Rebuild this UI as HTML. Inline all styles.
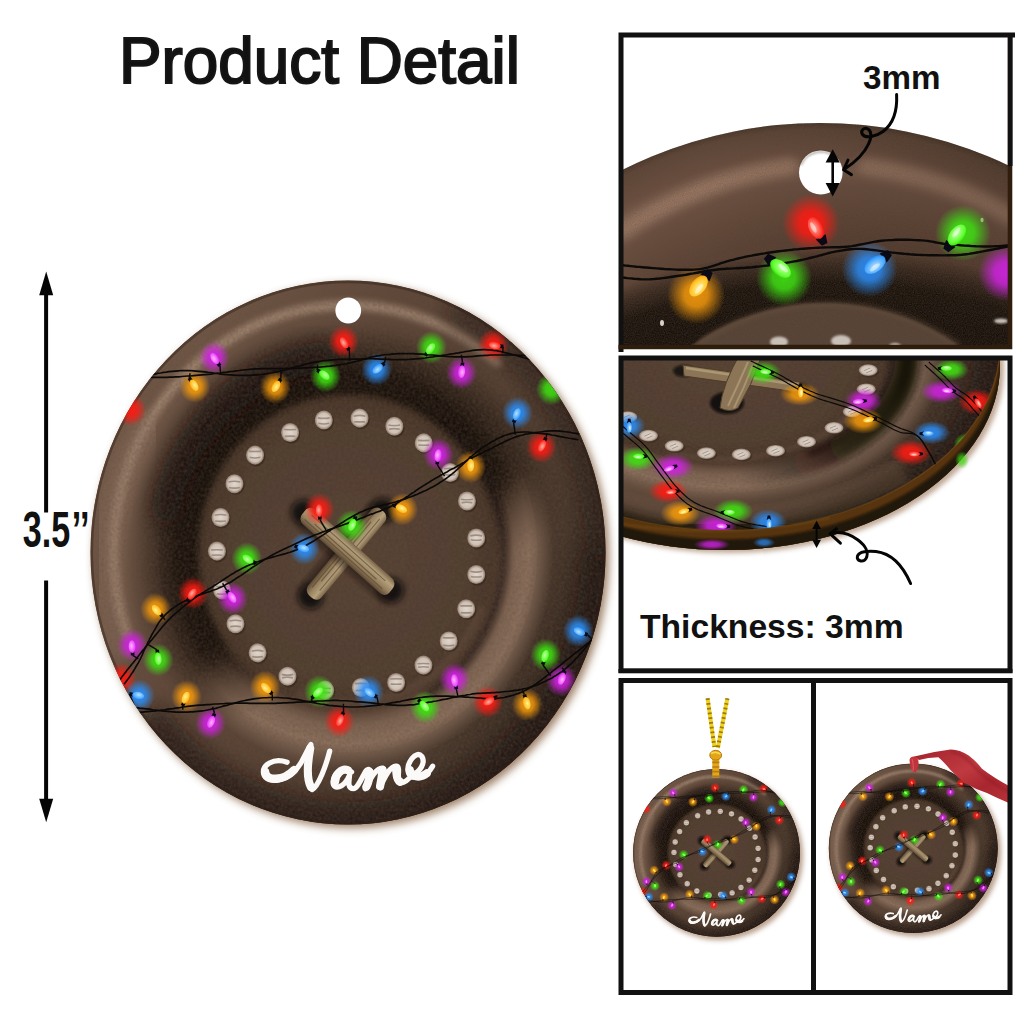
<!DOCTYPE html><html><head><meta charset="utf-8"><title>Product Detail</title><style>html,body{margin:0;padding:0;background:#fff}svg{display:block}text{font-family:"Liberation Sans",sans-serif;font-weight:bold;fill:#111}</style></head><body><svg width="1024" height="1024" viewBox="0 0 1024 1024"><defs><radialGradient id="gl_r"><stop offset="0" stop-color="#ff1a12" stop-opacity="0.92"/><stop offset="0.4" stop-color="#ff1a12" stop-opacity="0.84"/><stop offset="0.7" stop-color="#ff1a12" stop-opacity="0.42"/><stop offset="1" stop-color="#ff1a12" stop-opacity="0"/></radialGradient><radialGradient id="bu_r" cx="0.55" cy="0.4" r="0.6"><stop offset="0" stop-color="#ffb0a0"/><stop offset="0.75" stop-color="#ff3a30"/><stop offset="1" stop-color="#f01810"/></radialGradient><radialGradient id="gl_g"><stop offset="0" stop-color="#3fe012" stop-opacity="0.92"/><stop offset="0.4" stop-color="#3fe012" stop-opacity="0.84"/><stop offset="0.7" stop-color="#3fe012" stop-opacity="0.42"/><stop offset="1" stop-color="#3fe012" stop-opacity="0"/></radialGradient><radialGradient id="bu_g" cx="0.55" cy="0.4" r="0.6"><stop offset="0" stop-color="#c8ffb0"/><stop offset="0.75" stop-color="#5cff2c"/><stop offset="1" stop-color="#3ae010"/></radialGradient><radialGradient id="gl_b"><stop offset="0" stop-color="#2b8cf5" stop-opacity="0.92"/><stop offset="0.4" stop-color="#2b8cf5" stop-opacity="0.84"/><stop offset="0.7" stop-color="#2b8cf5" stop-opacity="0.42"/><stop offset="1" stop-color="#2b8cf5" stop-opacity="0"/></radialGradient><radialGradient id="bu_b" cx="0.55" cy="0.4" r="0.6"><stop offset="0" stop-color="#b8e2ff"/><stop offset="0.75" stop-color="#4aa8ff"/><stop offset="1" stop-color="#2a8cf5"/></radialGradient><radialGradient id="gl_p"><stop offset="0" stop-color="#cf22e0" stop-opacity="0.92"/><stop offset="0.4" stop-color="#cf22e0" stop-opacity="0.84"/><stop offset="0.7" stop-color="#cf22e0" stop-opacity="0.42"/><stop offset="1" stop-color="#cf22e0" stop-opacity="0"/></radialGradient><radialGradient id="bu_p" cx="0.55" cy="0.4" r="0.6"><stop offset="0" stop-color="#ffb8ff"/><stop offset="0.75" stop-color="#ee4cff"/><stop offset="1" stop-color="#d428e6"/></radialGradient><radialGradient id="gl_o"><stop offset="0" stop-color="#f59a0c" stop-opacity="0.92"/><stop offset="0.4" stop-color="#f59a0c" stop-opacity="0.84"/><stop offset="0.7" stop-color="#f59a0c" stop-opacity="0.42"/><stop offset="1" stop-color="#f59a0c" stop-opacity="0"/></radialGradient><radialGradient id="bu_o" cx="0.55" cy="0.4" r="0.6"><stop offset="0" stop-color="#fff29a"/><stop offset="0.75" stop-color="#ffc428"/><stop offset="1" stop-color="#ff9c10"/></radialGradient><radialGradient id="dot"><stop offset="0" stop-color="#e2d6cc"/><stop offset="0.72" stop-color="#cdbfb3"/><stop offset="1" stop-color="#8a7668"/></radialGradient><linearGradient id="gOuter" x1="0.05" y1="0.28" x2="0.95" y2="0.8"><stop offset="0" stop-color="#6f5545"/><stop offset="0.3" stop-color="#5f4739"/><stop offset="0.6" stop-color="#543f32"/><stop offset="0.85" stop-color="#46352a"/><stop offset="1" stop-color="#36281f"/></linearGradient><radialGradient id="gDarkC"><stop offset="0.66" stop-color="#150e09" stop-opacity="1"/><stop offset="0.77" stop-color="#170f0a" stop-opacity="0.96"/><stop offset="0.88" stop-color="#1c130d" stop-opacity="0.5"/><stop offset="0.96" stop-color="#1c130d" stop-opacity="0.12"/><stop offset="1" stop-color="#1c130d" stop-opacity="0"/></radialGradient><radialGradient id="gLightC"><stop offset="0.73" stop-color="#8f7360" stop-opacity="0"/><stop offset="0.80" stop-color="#8f7360" stop-opacity="0.7"/><stop offset="0.88" stop-color="#8f7360" stop-opacity="0.95"/><stop offset="0.95" stop-color="#8f7360" stop-opacity="0.4"/><stop offset="1" stop-color="#8f7360" stop-opacity="0"/></radialGradient><linearGradient id="lgTL" gradientUnits="userSpaceOnUse" x1="-35" y1="-60.6" x2="35" y2="60.6"><stop offset="0" stop-color="#fff"/><stop offset="0.52" stop-color="#fff"/><stop offset="0.72" stop-color="#000"/></linearGradient><linearGradient id="lgBR" gradientUnits="userSpaceOnUse" x1="-35" y1="-60.6" x2="35" y2="60.6"><stop offset="0.56" stop-color="#000"/><stop offset="0.74" stop-color="#fff"/><stop offset="1" stop-color="#fff"/></linearGradient><mask id="mTL" maskUnits="userSpaceOnUse" x="-100" y="-100" width="200" height="200"><rect x="-100" y="-100" width="200" height="200" fill="url(#lgTL)"/></mask><mask id="mBR" maskUnits="userSpaceOnUse" x="-100" y="-100" width="200" height="200"><rect x="-100" y="-100" width="200" height="200" fill="url(#lgBR)"/></mask><radialGradient id="gDisc"><stop offset="0" stop-color="#554133"/><stop offset="0.8" stop-color="#503c2f"/><stop offset="1" stop-color="#443226"/></radialGradient><linearGradient id="gThread" x1="0" y1="0" x2="0" y2="1"><stop offset="0" stop-color="#7a654a"/><stop offset="0.3" stop-color="#b5a17c"/><stop offset="0.65" stop-color="#97815f"/><stop offset="1" stop-color="#5d4a33"/></linearGradient><filter id="b1" x="-20%" y="-20%" width="140%" height="140%"><feGaussianBlur stdDeviation="1.2"/></filter><filter id="b2" x="-20%" y="-20%" width="140%" height="140%"><feGaussianBlur stdDeviation="2.4"/></filter><filter id="b3" x="-20%" y="-20%" width="140%" height="140%"><feGaussianBlur stdDeviation="4"/></filter><filter id="b3w" x="-60%" y="-60%" width="220%" height="220%"><feGaussianBlur stdDeviation="5"/></filter><filter id="sh" x="-20%" y="-20%" width="140%" height="140%"><feGaussianBlur stdDeviation="1.3"/></filter><filter id="grain" x="0" y="0" width="100%" height="100%"><feTurbulence type="fractalNoise" baseFrequency="0.9" numOctaves="2" seed="3" result="n"/><feColorMatrix type="matrix" values="0 0 0 0 0.12  0 0 0 0 0.08  0 0 0 0 0.05  1.1 0 0 -0.42 0"/><feComposite in2="SourceGraphic" operator="in"/></filter><filter id="mottle" x="0" y="0" width="100%" height="100%"><feTurbulence type="fractalNoise" baseFrequency="0.1 0.16" numOctaves="3" seed="11"/><feColorMatrix type="matrix" values="0 0 0 0 0.72  0 0 0 0 0.58  0 0 0 0 0.48  1.0 0 0 -0.46 0"/><feComposite in2="SourceGraphic" operator="in"/></filter><clipPath id="cbtn"><circle r="100"/></clipPath><g id="btnbase"><g clip-path="url(#cbtn)"><circle r="100" fill="#594234"/><circle r="87" fill="none" stroke="url(#gOuter)" stroke-width="27"/><path d="M-86,30 A91,91 0 0 1 58,-70" fill="none" stroke="#b89c86" stroke-width="3.6" opacity="0.7" filter="url(#b1)" stroke-linecap="round"/><path d="M-89,34 A93,93 0 0 1 -78,-46" fill="none" stroke="#947866" stroke-width="13" opacity="0.42" filter="url(#b2)" stroke-linecap="round"/><path d="M-74,64 A97,97 0 0 0 97,4" fill="none" stroke="#120b07" stroke-width="13" opacity="0.72" filter="url(#b3)" stroke-linecap="round"/><path d="M44,-88 A98,98 0 0 1 98,-4" fill="none" stroke="#120b07" stroke-width="11" opacity="0.5" filter="url(#b3)" stroke-linecap="round"/><circle r="86" fill="url(#gDarkC)" mask="url(#mTL)"/><path d="M-71,-16 A73,73 0 0 1 -10,-72" fill="none" stroke="#150e09" stroke-width="11" opacity="0.8" filter="url(#b3)" stroke-linecap="round"/><circle r="80" fill="url(#gLightC)" mask="url(#mBR)"/><path d="M38,-47 A60.5,60.5 0 0 1 30,52.5" fill="none" stroke="#150e09" stroke-width="4" opacity="0.6" filter="url(#b1)"/><circle r="58.2" fill="url(#gDisc)" filter="url(#b1)"/><path d="M52,20 A56,56 0 0 1 -20,52" fill="none" stroke="#7a5f4d" stroke-width="3" opacity="0.35" filter="url(#b1)"/><circle r="100" fill="#fff" filter="url(#grain)" opacity="0.5"/><circle r="99.5" fill="none" stroke="#2a1c13" stroke-width="1" opacity="0.4"/></g></g><g id="btndeco"><circle cx="-9.4" cy="-48.7" r="3.50" fill="#2a1d15" opacity="0.45" transform="translate(0.5 0.6)"/><circle cx="-9.4" cy="-48.7" r="3.50" fill="url(#dot)"/><path d="M-11.7,-49.5 q2.2,0.4 4.6,0 M-11.5,-47.5 q2,0.5 4.2,0" stroke="#8a7a6e" stroke-width="0.6" opacity="0.75" fill="none"/><circle cx="4.5" cy="-49.4" r="3.50" fill="#2a1d15" opacity="0.45" transform="translate(0.5 0.6)"/><circle cx="4.5" cy="-49.4" r="3.50" fill="url(#dot)"/><path d="M2.2,-50.1 q2.2,-0.6 4.6,0 M2.4,-48.0 q2,-0.0 4.2,0" stroke="#8a7a6e" stroke-width="0.6" opacity="0.75" fill="none"/><circle cx="18.0" cy="-46.4" r="3.50" fill="#2a1d15" opacity="0.45" transform="translate(0.5 0.6)"/><circle cx="18.0" cy="-46.4" r="3.50" fill="url(#dot)"/><path d="M15.7,-46.9 q2.2,0.5 4.6,0 M15.9,-45.3 q2,-0.5 4.2,0" stroke="#8a7a6e" stroke-width="0.6" opacity="0.75" fill="none"/><circle cx="29.4" cy="-40.3" r="3.50" fill="#2a1d15" opacity="0.45" transform="translate(0.5 0.6)"/><circle cx="29.4" cy="-40.3" r="3.50" fill="url(#dot)"/><path d="M27.1,-41.2 q2.2,0.1 4.6,0 M27.3,-39.5 q2,0.1 4.2,0" stroke="#8a7a6e" stroke-width="0.6" opacity="0.75" fill="none"/><circle cx="39.6" cy="-29.4" r="3.50" fill="#2a1d15" opacity="0.45" transform="translate(0.5 0.6)"/><circle cx="39.6" cy="-29.4" r="3.50" fill="url(#dot)"/><path d="M37.3,-30.8 q2.2,-0.3 4.6,0 M37.5,-28.7 q2,0.5 4.2,0" stroke="#8a7a6e" stroke-width="0.6" opacity="0.75" fill="none"/><circle cx="46.2" cy="-18.9" r="3.50" fill="#2a1d15" opacity="0.45" transform="translate(0.5 0.6)"/><circle cx="46.2" cy="-18.9" r="3.50" fill="url(#dot)"/><path d="M43.9,-19.6 q2.2,0.4 4.6,0 M44.1,-18.3 q2,-0.4 4.2,0" stroke="#8a7a6e" stroke-width="0.6" opacity="0.75" fill="none"/><circle cx="49.8" cy="-5.3" r="3.50" fill="#2a1d15" opacity="0.45" transform="translate(0.5 0.6)"/><circle cx="49.8" cy="-5.3" r="3.50" fill="url(#dot)"/><path d="M47.5,-6.1 q2.2,-0.6 4.6,0 M47.7,-4.7 q2,0.4 4.2,0" stroke="#8a7a6e" stroke-width="0.6" opacity="0.75" fill="none"/><circle cx="49.8" cy="8.1" r="3.50" fill="#2a1d15" opacity="0.45" transform="translate(0.5 0.6)"/><circle cx="49.8" cy="8.1" r="3.50" fill="url(#dot)"/><path d="M47.5,6.9 q2.2,0.6 4.6,0 M47.7,8.8 q2,0.4 4.2,0" stroke="#8a7a6e" stroke-width="0.6" opacity="0.75" fill="none"/><circle cx="45.9" cy="20.7" r="3.50" fill="#2a1d15" opacity="0.45" transform="translate(0.5 0.6)"/><circle cx="45.9" cy="20.7" r="3.50" fill="url(#dot)"/><path d="M43.6,19.6 q2.2,0.0 4.6,0 M43.8,22.1 q2,0.2 4.2,0" stroke="#8a7a6e" stroke-width="0.6" opacity="0.75" fill="none"/><circle cx="39.1" cy="32.5" r="3.50" fill="#2a1d15" opacity="0.45" transform="translate(0.5 0.6)"/><circle cx="39.1" cy="32.5" r="3.50" fill="url(#dot)"/><path d="M36.8,31.3 q2.2,0.2 4.6,0 M37.0,34.0 q2,0.6 4.2,0" stroke="#8a7a6e" stroke-width="0.6" opacity="0.75" fill="none"/><circle cx="29.3" cy="41.4" r="3.50" fill="#2a1d15" opacity="0.45" transform="translate(0.5 0.6)"/><circle cx="29.3" cy="41.4" r="3.50" fill="url(#dot)"/><path d="M27.0,40.9 q2.2,-0.2 4.6,0 M27.2,42.2 q2,-0.4 4.2,0" stroke="#8a7a6e" stroke-width="0.6" opacity="0.75" fill="none"/><circle cx="18.7" cy="47.8" r="3.50" fill="#2a1d15" opacity="0.45" transform="translate(0.5 0.6)"/><circle cx="18.7" cy="47.8" r="3.50" fill="url(#dot)"/><path d="M16.4,46.5 q2.2,-0.2 4.6,0 M16.6,48.4 q2,0.1 4.2,0" stroke="#8a7a6e" stroke-width="0.6" opacity="0.75" fill="none"/><circle cx="5.0" cy="49.6" r="3.50" fill="#2a1d15" opacity="0.45" transform="translate(0.5 0.6)"/><circle cx="5.0" cy="49.6" r="3.50" fill="url(#dot)"/><path d="M2.7,48.2 q2.2,-0.2 4.6,0 M2.9,50.8 q2,-0.2 4.2,0" stroke="#8a7a6e" stroke-width="0.6" opacity="0.75" fill="none"/><circle cx="-8.9" cy="50.6" r="3.50" fill="#2a1d15" opacity="0.45" transform="translate(0.5 0.6)"/><circle cx="-8.9" cy="50.6" r="3.50" fill="url(#dot)"/><path d="M-11.2,50.0 q2.2,-0.2 4.6,0 M-11.0,51.5 q2,-0.0 4.2,0" stroke="#8a7a6e" stroke-width="0.6" opacity="0.75" fill="none"/><circle cx="-23.5" cy="45.5" r="3.50" fill="#2a1d15" opacity="0.45" transform="translate(0.5 0.6)"/><circle cx="-23.5" cy="45.5" r="3.50" fill="url(#dot)"/><path d="M-25.8,44.8 q2.2,0.6 4.6,0 M-25.6,46.1 q2,-0.6 4.2,0" stroke="#8a7a6e" stroke-width="0.6" opacity="0.75" fill="none"/><circle cx="-35.1" cy="36.9" r="3.50" fill="#2a1d15" opacity="0.45" transform="translate(0.5 0.6)"/><circle cx="-35.1" cy="36.9" r="3.50" fill="url(#dot)"/><path d="M-37.4,36.3 q2.2,-0.6 4.6,0 M-37.2,38.3 q2,0.3 4.2,0" stroke="#8a7a6e" stroke-width="0.6" opacity="0.75" fill="none"/><circle cx="-43.7" cy="26.2" r="3.50" fill="#2a1d15" opacity="0.45" transform="translate(0.5 0.6)"/><circle cx="-43.7" cy="26.2" r="3.50" fill="url(#dot)"/><path d="M-46.0,25.2 q2.2,-0.6 4.6,0 M-45.8,27.3 q2,-0.5 4.2,0" stroke="#8a7a6e" stroke-width="0.6" opacity="0.75" fill="none"/><circle cx="-48.9" cy="13.8" r="3.50" fill="#2a1d15" opacity="0.45" transform="translate(0.5 0.6)"/><circle cx="-48.9" cy="13.8" r="3.50" fill="url(#dot)"/><path d="M-51.2,12.6 q2.2,-0.4 4.6,0 M-51.0,15.2 q2,0.3 4.2,0" stroke="#8a7a6e" stroke-width="0.6" opacity="0.75" fill="none"/><circle cx="-50.9" cy="-0.5" r="3.50" fill="#2a1d15" opacity="0.45" transform="translate(0.5 0.6)"/><circle cx="-50.9" cy="-0.5" r="3.50" fill="url(#dot)"/><path d="M-53.2,-0.9 q2.2,-0.2 4.6,0 M-53.0,1.0 q2,-0.2 4.2,0" stroke="#8a7a6e" stroke-width="0.6" opacity="0.75" fill="none"/><circle cx="-49.5" cy="-12.9" r="3.50" fill="#2a1d15" opacity="0.45" transform="translate(0.5 0.6)"/><circle cx="-49.5" cy="-12.9" r="3.50" fill="url(#dot)"/><path d="M-51.8,-13.7 q2.2,-0.5 4.6,0 M-51.6,-11.6 q2,0.3 4.2,0" stroke="#8a7a6e" stroke-width="0.6" opacity="0.75" fill="none"/><circle cx="-44.1" cy="-25.3" r="3.50" fill="#2a1d15" opacity="0.45" transform="translate(0.5 0.6)"/><circle cx="-44.1" cy="-25.3" r="3.50" fill="url(#dot)"/><path d="M-46.4,-25.9 q2.2,-0.6 4.6,0 M-46.2,-23.9 q2,0.5 4.2,0" stroke="#8a7a6e" stroke-width="0.6" opacity="0.75" fill="none"/><circle cx="-36.1" cy="-35.8" r="3.50" fill="#2a1d15" opacity="0.45" transform="translate(0.5 0.6)"/><circle cx="-36.1" cy="-35.8" r="3.50" fill="url(#dot)"/><path d="M-38.4,-37.2 q2.2,0.1 4.6,0 M-38.2,-35.0 q2,0.5 4.2,0" stroke="#8a7a6e" stroke-width="0.6" opacity="0.75" fill="none"/><circle cx="-22.5" cy="-44.1" r="3.50" fill="#2a1d15" opacity="0.45" transform="translate(0.5 0.6)"/><circle cx="-22.5" cy="-44.1" r="3.50" fill="url(#dot)"/><path d="M-24.8,-45.2 q2.2,0.1 4.6,0 M-24.6,-42.7 q2,-0.2 4.2,0" stroke="#8a7a6e" stroke-width="0.6" opacity="0.75" fill="none"/><ellipse cx="-17.2" cy="-14.8" rx="5" ry="4.6" fill="#0f0a07" opacity="0.85" filter="url(#b1)"/><ellipse cx="16.7" cy="13.9" rx="5" ry="4.6" fill="#0f0a07" opacity="0.85" filter="url(#b1)"/><ellipse cx="13.4" cy="-15.4" rx="5" ry="4.6" fill="#0f0a07" opacity="0.85" filter="url(#b1)"/><ellipse cx="-14.5" cy="16.2" rx="5" ry="4.6" fill="#0f0a07" opacity="0.85" filter="url(#b1)"/><g transform="translate(13.4 -15.4) rotate(131.5)"><rect x="-1" y="-3.4" width="43.2" height="6.8" rx="2.6" fill="#120c08" opacity="0.55" filter="url(#b1)" transform="translate(1.2 1.8)"/><rect x="0" y="-3.4" width="42.2" height="6.8" rx="2.6" fill="url(#gThread)"/><path d="M3,-1.2 H38.2 M6,0.6 H35.2 M2,1.8 H39.2" stroke="#5f4c35" stroke-width="0.45" opacity="0.7" fill="none"/></g><g transform="translate(-17.2 -14.8) rotate(40.2)"><rect x="-1" y="-3.6" width="45.5" height="7.2" rx="2.6" fill="#120c08" opacity="0.55" filter="url(#b1)" transform="translate(1.2 1.8)"/><rect x="0" y="-3.6" width="44.5" height="7.2" rx="2.6" fill="url(#gThread)"/><path d="M3,-1.2 H40.5 M6,0.6 H37.5 M2,1.8 H41.5" stroke="#5f4c35" stroke-width="0.45" opacity="0.7" fill="none"/></g><g clip-path="url(#cbtn)"><g><circle cx="-52.0" cy="-71.7" r="6.0" fill="url(#gl_p)"/><circle cx="-59.5" cy="-61.0" r="6.0" fill="url(#gl_o)"/><circle cx="-28.3" cy="-60.7" r="6.0" fill="url(#gl_o)"/><circle cx="-8.7" cy="-64.9" r="6.0" fill="url(#gl_g)"/><circle cx="-1.7" cy="-77.6" r="6.0" fill="url(#gl_r)"/><circle cx="11.1" cy="-67.3" r="6.0" fill="url(#gl_b)"/><circle cx="32.4" cy="-75.4" r="6.0" fill="url(#gl_g)"/><circle cx="44.1" cy="-66.0" r="6.0" fill="url(#gl_p)"/><circle cx="56.4" cy="-76.3" r="6.0" fill="url(#gl_r)"/><circle cx="79.0" cy="-60.1" r="6.0" fill="url(#gl_g)"/><circle cx="-84.3" cy="-52.4" r="6.0" fill="url(#gl_r)"/><circle cx="65.8" cy="-51.3" r="6.0" fill="url(#gl_b)"/><circle cx="75.1" cy="-38.8" r="6.0" fill="url(#gl_r)"/><circle cx="35.1" cy="-36.1" r="6.0" fill="url(#gl_p)"/><circle cx="47.6" cy="-31.5" r="6.0" fill="url(#gl_o)"/><circle cx="21.2" cy="-15.9" r="6.0" fill="url(#gl_o)"/><circle cx="-11.1" cy="-15.9" r="6.0" fill="url(#gl_r)"/><circle cx="1.4" cy="-9.7" r="6.0" fill="url(#gl_g)"/><circle cx="-16.9" cy="-1.4" r="6.0" fill="url(#gl_b)"/><circle cx="-39.3" cy="2.2" r="6.0" fill="url(#gl_g)"/><circle cx="-60.2" cy="14.9" r="6.0" fill="url(#gl_r)"/><circle cx="-44.8" cy="16.9" r="6.0" fill="url(#gl_p)"/><circle cx="-74.7" cy="20.8" r="6.0" fill="url(#gl_o)"/><circle cx="-83.8" cy="34.0" r="6.0" fill="url(#gl_p)"/><circle cx="-73.7" cy="39.5" r="6.0" fill="url(#gl_g)"/><circle cx="-88.1" cy="46.5" r="6.0" fill="url(#gl_r)"/><circle cx="-81.0" cy="52.6" r="6.0" fill="url(#gl_b)"/><circle cx="-62.7" cy="52.9" r="6.0" fill="url(#gl_o)"/><circle cx="-53.4" cy="62.7" r="6.0" fill="url(#gl_p)"/><circle cx="-32.2" cy="49.4" r="6.0" fill="url(#gl_o)"/><circle cx="-11.1" cy="51.1" r="6.0" fill="url(#gl_g)"/><circle cx="-3.4" cy="62.1" r="6.0" fill="url(#gl_r)"/><circle cx="8.0" cy="51.1" r="6.0" fill="url(#gl_b)"/><circle cx="30.0" cy="56.9" r="6.0" fill="url(#gl_g)"/><circle cx="41.4" cy="46.5" r="6.0" fill="url(#gl_p)"/><circle cx="54.2" cy="54.9" r="6.0" fill="url(#gl_r)"/><circle cx="69.6" cy="55.9" r="6.0" fill="url(#gl_o)"/><circle cx="82.8" cy="46.9" r="6.0" fill="url(#gl_p)"/><circle cx="76.8" cy="37.6" r="6.0" fill="url(#gl_g)"/><circle cx="89.4" cy="28.8" r="6.0" fill="url(#gl_b)"/></g><g fill="none" stroke="#0c0a09" stroke-width="0.62" stroke-linecap="round"><path d="M-76.6,-64.5 L-76.0,-64.4 L-75.3,-64.4 L-74.5,-64.4 L-73.6,-64.4 L-72.6,-64.4 L-71.6,-64.4 L-70.5,-64.4 L-69.3,-64.5 L-68.1,-64.5 L-67.0,-64.6 L-65.8,-64.6 L-64.6,-64.7 L-63.4,-64.8 L-62.3,-64.9 L-61.2,-64.9 L-60.1,-65.0 L-59.0,-65.1 L-57.9,-65.2 L-56.7,-65.3 L-55.5,-65.4 L-54.3,-65.5 L-53.1,-65.6 L-51.9,-65.8 L-50.7,-65.9 L-49.5,-66.0 L-48.3,-66.2 L-47.1,-66.3 L-45.9,-66.5 L-44.7,-66.6 L-43.4,-66.8 L-42.2,-66.9 L-40.9,-67.1 L-39.6,-67.2 L-38.4,-67.3 L-37.1,-67.4 L-35.8,-67.5 L-34.5,-67.5 L-33.3,-67.6 L-32.0,-67.6 L-30.8,-67.6 L-29.5,-67.6 L-28.3,-67.6 L-27.2,-67.6 L-26.0,-67.6 L-24.9,-67.6 L-23.7,-67.7 L-22.6,-67.7 L-21.5,-67.7 L-20.4,-67.7 L-19.3,-67.8 L-18.2,-67.8 L-17.1,-67.9 L-16.0,-67.9 L-15.0,-68.0 L-13.9,-68.0 L-12.8,-68.1 L-11.7,-68.1 L-10.5,-68.2 L-9.4,-68.3 L-8.2,-68.4 L-7.0,-68.5 L-5.8,-68.7 L-4.7,-68.8 L-3.5,-69.0 L-2.4,-69.2 L-1.3,-69.3 L-0.3,-69.5 L0.7,-69.7 L1.7,-69.9 L2.5,-70.1 L3.4,-70.3 L4.1,-70.5 L4.7,-70.6 L5.3,-70.8 L5.8,-71.0 L6.3,-71.1 L6.8,-71.2 L7.2,-71.4 L7.8,-71.5 L8.3,-71.7 L8.9,-71.8 L9.6,-72.0 L10.4,-72.1 L11.3,-72.3 L12.3,-72.4 L13.4,-72.6 L14.5,-72.7 L15.8,-72.8 L17.1,-72.9 L18.4,-73.0 L19.8,-73.1 L21.2,-73.1 L22.6,-73.1 L23.9,-73.1 L25.2,-73.1 L26.5,-73.0 L27.7,-72.9 L28.9,-72.9 L30.0,-72.8 L31.0,-72.7 L32.0,-72.6 L33.0,-72.6 L33.9,-72.5 L34.9,-72.4 L35.8,-72.3 L36.7,-72.2 L37.6,-72.2 L38.5,-72.1 L39.4,-72.0 L40.3,-72.0 L41.2,-71.9 L42.1,-71.9 L43.1,-71.9 L44.0,-71.9 L45.0,-71.9 L45.9,-71.9 L46.8,-72.0 L47.8,-72.0 L48.7,-72.1 L49.6,-72.2 L50.5,-72.3 L51.5,-72.4 L52.4,-72.4 L53.3,-72.5 L54.3,-72.5 L55.3,-72.6 L56.3,-72.6 L57.4,-72.6 L58.7,-72.6 L59.9,-72.6 L61.2,-72.6 L62.5,-72.6 L63.8,-72.6 L65.1,-72.6 L66.3,-72.5 L67.4,-72.5 L68.4,-72.5 L69.4,-72.4 L70.1,-72.4 L70.8,-72.4"/><path d="M-76.7,-65.3 L-76.1,-65.4 L-75.4,-65.6 L-74.6,-65.7 L-73.8,-65.9 L-72.8,-66.0 L-71.7,-66.2 L-70.6,-66.3 L-69.5,-66.5 L-68.3,-66.6 L-67.1,-66.7 L-65.9,-66.8 L-64.7,-66.9 L-63.5,-66.9 L-62.4,-66.9 L-61.3,-66.9 L-60.1,-66.8 L-59.0,-66.7 L-57.8,-66.6 L-56.7,-66.5 L-55.5,-66.4 L-54.3,-66.2 L-53.1,-66.1 L-51.9,-65.9 L-50.7,-65.8 L-49.5,-65.6 L-48.3,-65.5 L-47.1,-65.4 L-45.8,-65.3 L-44.6,-65.2 L-43.4,-65.1 L-42.1,-65.1 L-40.8,-65.1 L-39.5,-65.1 L-38.2,-65.1 L-36.9,-65.2 L-35.6,-65.3 L-34.4,-65.4 L-33.1,-65.5 L-31.8,-65.7 L-30.6,-65.9 L-29.4,-66.1 L-28.2,-66.3 L-27.0,-66.5 L-25.9,-66.8 L-24.8,-67.0 L-23.7,-67.3 L-22.6,-67.6 L-21.5,-67.9 L-20.5,-68.2 L-19.4,-68.4 L-18.4,-68.7 L-17.3,-69.0 L-16.3,-69.3 L-15.2,-69.5 L-14.1,-69.7 L-13.0,-69.9 L-11.9,-70.1 L-10.8,-70.3 L-9.6,-70.5 L-8.4,-70.6 L-7.3,-70.7 L-6.1,-70.8 L-4.9,-70.9 L-3.8,-71.0 L-2.6,-71.0 L-1.5,-71.0 L-0.5,-71.0 L0.6,-71.1 L1.5,-71.1 L2.4,-71.1 L3.2,-71.1 L4.0,-71.1 L4.6,-71.1 L5.2,-71.1 L5.7,-71.2 L6.3,-71.2 L6.8,-71.2 L7.3,-71.2 L7.8,-71.3 L8.4,-71.3 L9.0,-71.3 L9.7,-71.3 L10.5,-71.2 L11.3,-71.2 L12.3,-71.1 L13.4,-71.1 L14.6,-71.0 L15.8,-71.0 L17.1,-70.9 L18.5,-70.9 L19.8,-70.9 L21.2,-70.9 L22.6,-70.9 L23.9,-71.0 L25.3,-71.1 L26.6,-71.2 L27.8,-71.3 L28.9,-71.4 L30.0,-71.5 L31.0,-71.7 L32.0,-71.8 L33.0,-71.9 L33.9,-72.1 L34.9,-72.2 L35.8,-72.3 L36.7,-72.5 L37.6,-72.6 L38.4,-72.7 L39.3,-72.9 L40.2,-73.0 L41.1,-73.1 L42.1,-73.3 L43.0,-73.4 L43.9,-73.6 L44.8,-73.7 L45.7,-73.9 L46.6,-74.0 L47.5,-74.1 L48.4,-74.3 L49.4,-74.4 L50.3,-74.5 L51.3,-74.5 L52.3,-74.6 L53.3,-74.6 L54.3,-74.5 L55.3,-74.5 L56.4,-74.3 L57.6,-74.2 L58.8,-74.0 L60.1,-73.7 L61.3,-73.4 L62.6,-73.1 L63.8,-72.8 L65.0,-72.5 L66.2,-72.2 L67.3,-71.9 L68.3,-71.6 L69.2,-71.4 L70.0,-71.2 L70.6,-71.1"/><path d="M89.5,-43.6 L89.0,-43.7 L88.5,-43.8 L87.8,-43.9 L87.0,-44.0 L86.2,-44.2 L85.3,-44.3 L84.3,-44.4 L83.3,-44.5 L82.3,-44.6 L81.3,-44.7 L80.2,-44.7 L79.2,-44.7 L78.2,-44.7 L77.3,-44.6 L76.4,-44.5 L75.5,-44.4 L74.5,-44.3 L73.6,-44.2 L72.6,-44.1 L71.7,-44.0 L70.8,-43.8 L69.8,-43.6 L68.9,-43.5 L68.0,-43.2 L67.0,-43.0 L66.1,-42.8 L65.2,-42.5 L64.3,-42.2 L63.4,-41.8 L62.5,-41.5 L61.6,-41.1 L60.7,-40.7 L59.8,-40.2 L58.8,-39.8 L57.9,-39.3 L56.9,-38.9 L56.0,-38.4 L55.0,-37.9 L54.0,-37.5 L53.1,-37.0 L52.2,-36.6 L51.2,-36.2 L50.3,-35.8 L49.4,-35.4 L48.6,-35.0 L47.7,-34.5 L46.9,-34.1 L46.0,-33.7 L45.2,-33.2 L44.3,-32.8 L43.5,-32.3 L42.7,-31.9 L41.9,-31.4 L41.1,-31.0 L40.2,-30.6 L39.4,-30.2 L38.6,-29.7 L37.8,-29.3 L37.0,-28.9 L36.2,-28.5 L35.4,-28.0 L34.6,-27.6 L33.8,-27.2 L33.0,-26.7 L32.2,-26.3 L31.5,-25.8 L30.7,-25.4 L29.9,-24.9 L29.2,-24.5 L28.4,-24.0 L27.7,-23.6 L26.9,-23.1 L26.2,-22.6 L25.5,-22.1 L24.7,-21.7 L24.0,-21.2 L23.3,-20.7 L22.5,-20.3 L21.8,-19.8 L21.0,-19.3 L20.3,-18.9 L19.6,-18.5 L18.8,-18.0 L18.1,-17.6 L17.3,-17.3 L16.6,-16.9 L15.8,-16.6 L15.1,-16.2 L14.3,-16.0 L13.6,-15.7 L12.8,-15.4 L12.1,-15.1 L11.3,-14.9 L10.6,-14.6 L9.8,-14.3 L9.0,-14.1 L8.2,-13.8 L7.4,-13.5 L6.5,-13.1 L5.6,-12.8 L4.7,-12.5 L3.7,-12.1 L2.8,-11.8 L1.8,-11.4 L0.8,-11.1 L-0.2,-10.7 L-1.2,-10.4 L-2.3,-10.0 L-3.3,-9.7 L-4.3,-9.4 L-5.3,-9.0 L-6.3,-8.7 L-7.3,-8.4 L-8.3,-8.0 L-9.4,-7.7 L-10.4,-7.3 L-11.4,-6.9 L-12.4,-6.6 L-13.4,-6.2 L-14.4,-5.8 L-15.4,-5.4 L-16.4,-5.0 L-17.3,-4.6 L-18.2,-4.2 L-19.1,-3.8 L-20.0,-3.4 L-20.8,-3.0 L-21.6,-2.7 L-22.4,-2.3 L-23.2,-2.0 L-24.0,-1.6 L-24.8,-1.3 L-25.6,-0.9 L-26.3,-0.6 L-27.1,-0.2 L-27.8,0.1 L-28.5,0.5 L-29.2,0.8 L-29.9,1.2 L-30.6,1.6 L-31.2,1.9 L-31.9,2.3 L-32.5,2.6 L-33.0,3.0 L-33.6,3.3 L-34.2,3.7 L-34.7,4.0 L-35.3,4.4 L-35.8,4.7 L-36.4,5.1 L-37.0,5.4 L-37.6,5.8 L-38.2,6.2 L-38.8,6.6 L-39.5,7.1 L-40.2,7.5 L-40.9,8.0 L-41.7,8.5 L-42.4,8.9 L-43.2,9.4 L-44.0,9.9 L-44.8,10.4 L-45.6,10.9 L-46.5,11.3 L-47.3,11.7 L-48.1,12.2 L-49.0,12.6 L-49.8,12.9 L-50.7,13.3 L-51.5,13.6 L-52.4,13.9 L-53.2,14.2 L-54.1,14.5 L-54.9,14.7 L-55.8,15.0 L-56.6,15.3 L-57.5,15.5 L-58.3,15.8 L-59.1,16.1 L-60.0,16.4 L-60.8,16.7 L-61.5,17.0 L-62.3,17.3 L-63.0,17.7 L-63.8,18.0 L-64.5,18.4 L-65.2,18.8 L-65.9,19.1 L-66.5,19.5 L-67.2,20.0 L-67.8,20.4 L-68.5,20.8 L-69.1,21.3 L-69.7,21.8 L-70.3,22.3 L-70.9,22.8 L-71.4,23.4 L-72.0,24.0 L-72.5,24.6 L-73.0,25.2 L-73.5,25.8 L-73.9,26.5 L-74.3,27.1 L-74.7,27.8 L-75.1,28.5 L-75.5,29.1 L-75.9,29.8 L-76.3,30.4 L-76.6,31.1 L-77.0,31.7 L-77.3,32.4 L-77.7,33.0 L-78.0,33.7 L-78.3,34.3 L-78.6,35.0 L-79.0,35.6 L-79.3,36.3 L-79.6,36.9 L-79.9,37.6 L-80.2,38.2 L-80.5,38.8 L-80.8,39.5 L-81.2,40.1 L-81.5,40.7 L-81.9,41.3 L-82.3,41.9 L-82.7,42.6 L-83.1,43.2 L-83.5,43.9 L-84.0,44.5 L-84.4,45.1 L-84.8,45.7 L-85.2,46.2 L-85.6,46.7 L-86.0,47.2 L-86.3,47.6 L-86.6,48.0 L-86.8,48.2"/><path d="M89.2,-41.5 L88.7,-41.6 L88.1,-41.7 L87.4,-41.8 L86.6,-41.9 L85.8,-42.0 L84.9,-42.2 L84.0,-42.3 L83.0,-42.5 L82.0,-42.7 L81.1,-42.9 L80.1,-43.1 L79.1,-43.2 L78.2,-43.4 L77.3,-43.5 L76.4,-43.6 L75.4,-43.7 L74.5,-43.8 L73.6,-43.9 L72.6,-44.0 L71.7,-44.1 L70.7,-44.2 L69.8,-44.3 L68.8,-44.3 L67.8,-44.3 L66.8,-44.2 L65.8,-44.2 L64.8,-44.0 L63.8,-43.8 L62.8,-43.6 L61.8,-43.3 L60.8,-43.0 L59.8,-42.6 L58.8,-42.2 L57.8,-41.7 L56.8,-41.2 L55.8,-40.7 L54.9,-40.2 L54.0,-39.6 L53.1,-39.1 L52.2,-38.5 L51.3,-37.9 L50.5,-37.3 L49.7,-36.7 L48.9,-36.1 L48.2,-35.5 L47.4,-34.9 L46.7,-34.3 L46.0,-33.7 L45.3,-33.0 L44.6,-32.4 L43.9,-31.8 L43.2,-31.2 L42.5,-30.6 L41.8,-30.0 L41.1,-29.4 L40.3,-28.8 L39.6,-28.3 L38.8,-27.7 L38.1,-27.2 L37.3,-26.7 L36.5,-26.2 L35.8,-25.8 L35.0,-25.3 L34.2,-24.8 L33.4,-24.4 L32.6,-24.0 L31.8,-23.6 L31.0,-23.2 L30.2,-22.8 L29.4,-22.5 L28.5,-22.1 L27.7,-21.8 L26.9,-21.4 L26.0,-21.1 L25.2,-20.8 L24.4,-20.5 L23.5,-20.2 L22.7,-19.9 L21.9,-19.6 L21.0,-19.4 L20.2,-19.1 L19.4,-18.9 L18.6,-18.6 L17.7,-18.4 L16.9,-18.2 L16.1,-18.0 L15.4,-17.8 L14.6,-17.7 L13.8,-17.5 L13.0,-17.3 L12.3,-17.2 L11.5,-17.0 L10.7,-16.8 L9.9,-16.6 L9.1,-16.4 L8.2,-16.1 L7.3,-15.8 L6.5,-15.5 L5.6,-15.1 L4.7,-14.8 L3.8,-14.3 L2.9,-13.9 L2.0,-13.4 L1.0,-12.9 L0.1,-12.4 L-0.8,-11.9 L-1.7,-11.3 L-2.7,-10.8 L-3.6,-10.2 L-4.5,-9.7 L-5.4,-9.1 L-6.3,-8.6 L-7.1,-8.0 L-8.0,-7.5 L-9.0,-6.9 L-9.9,-6.3 L-10.8,-5.8 L-11.7,-5.2 L-12.6,-4.7 L-13.5,-4.1 L-14.5,-3.6 L-15.4,-3.1 L-16.3,-2.6 L-17.2,-2.2 L-18.1,-1.8 L-19.0,-1.4 L-19.9,-1.0 L-20.8,-0.7 L-21.6,-0.4 L-22.5,-0.1 L-23.3,0.1 L-24.2,0.4 L-25.0,0.6 L-25.8,0.8 L-26.6,1.0 L-27.4,1.2 L-28.1,1.4 L-28.9,1.6 L-29.6,1.8 L-30.4,2.0 L-31.1,2.2 L-31.8,2.4 L-32.5,2.6 L-33.1,2.8 L-33.8,3.0 L-34.4,3.2 L-35.0,3.4 L-35.7,3.6 L-36.3,3.9 L-36.9,4.1 L-37.6,4.3 L-38.3,4.6 L-39.0,4.9 L-39.7,5.2 L-40.4,5.5 L-41.2,5.9 L-42.0,6.3 L-42.8,6.7 L-43.6,7.1 L-44.4,7.6 L-45.2,8.0 L-46.0,8.5 L-46.8,9.0 L-47.6,9.5 L-48.4,10.0 L-49.2,10.5 L-49.9,10.9 L-50.7,11.4 L-51.4,11.9 L-52.2,12.3 L-52.9,12.8 L-53.7,13.2 L-54.5,13.7 L-55.3,14.1 L-56.0,14.6 L-56.8,15.0 L-57.5,15.5 L-58.3,15.9 L-59.0,16.4 L-59.7,16.8 L-60.4,17.3 L-61.0,17.8 L-61.7,18.3 L-62.3,18.7 L-63.0,19.2 L-63.6,19.7 L-64.2,20.1 L-64.8,20.6 L-65.4,21.1 L-65.9,21.5 L-66.5,22.0 L-67.1,22.5 L-67.6,22.9 L-68.2,23.4 L-68.7,23.9 L-69.2,24.4 L-69.8,24.9 L-70.3,25.4 L-70.8,25.9 L-71.3,26.5 L-71.8,27.0 L-72.3,27.6 L-72.8,28.2 L-73.3,28.7 L-73.8,29.3 L-74.3,29.9 L-74.8,30.5 L-75.3,31.0 L-75.8,31.6 L-76.3,32.2 L-76.8,32.7 L-77.3,33.3 L-77.8,33.8 L-78.3,34.4 L-78.8,34.9 L-79.2,35.5 L-79.7,36.0 L-80.2,36.6 L-80.6,37.1 L-81.1,37.7 L-81.5,38.2 L-82.0,38.8 L-82.4,39.3 L-82.8,39.8 L-83.3,40.4 L-83.8,40.9 L-84.3,41.5 L-84.8,42.1 L-85.3,42.7 L-85.8,43.2 L-86.2,43.8 L-86.7,44.4 L-87.1,44.9 L-87.5,45.4 L-87.9,45.9 L-88.2,46.3 L-88.5,46.7 L-88.7,47.0"/><path d="M-82.2,58.9 L-81.6,58.8 L-80.9,58.8 L-80.0,58.7 L-79.1,58.6 L-78.1,58.5 L-77.0,58.4 L-75.8,58.3 L-74.7,58.2 L-73.5,58.1 L-72.3,57.9 L-71.1,57.8 L-70.0,57.6 L-68.9,57.5 L-67.9,57.4 L-66.9,57.2 L-66.0,57.1 L-65.0,57.0 L-64.1,56.8 L-63.2,56.7 L-62.3,56.6 L-61.4,56.5 L-60.5,56.4 L-59.6,56.3 L-58.7,56.2 L-57.8,56.1 L-56.8,56.1 L-55.8,56.0 L-54.8,55.9 L-53.8,55.9 L-52.7,55.8 L-51.6,55.7 L-50.5,55.7 L-49.4,55.6 L-48.3,55.6 L-47.2,55.5 L-46.0,55.5 L-44.9,55.5 L-43.7,55.4 L-42.6,55.4 L-41.4,55.4 L-40.3,55.4 L-39.2,55.4 L-38.1,55.5 L-37.0,55.5 L-35.9,55.5 L-34.8,55.5 L-33.7,55.5 L-32.6,55.5 L-31.5,55.5 L-30.4,55.5 L-29.4,55.5 L-28.3,55.5 L-27.2,55.4 L-26.1,55.4 L-25.0,55.3 L-23.9,55.3 L-22.8,55.2 L-21.7,55.2 L-20.6,55.1 L-19.5,55.0 L-18.4,55.0 L-17.3,54.9 L-16.2,54.9 L-15.1,54.8 L-14.0,54.7 L-12.9,54.7 L-11.8,54.6 L-10.7,54.6 L-9.6,54.6 L-8.5,54.5 L-7.4,54.5 L-6.2,54.4 L-5.1,54.4 L-4.0,54.4 L-2.9,54.5 L-1.7,54.5 L-0.6,54.5 L0.5,54.6 L1.6,54.7 L2.7,54.8 L3.8,54.9 L4.8,54.9 L5.9,55.0 L6.9,55.1 L7.9,55.2 L8.9,55.3 L9.9,55.4 L10.8,55.5 L11.8,55.6 L12.7,55.7 L13.7,55.8 L14.6,55.9 L15.5,56.0 L16.4,56.0 L17.4,56.1 L18.3,56.1 L19.2,56.2 L20.2,56.2 L21.1,56.2 L22.1,56.2 L23.1,56.1 L24.0,56.0 L25.0,56.0 L25.9,55.9 L26.9,55.7 L27.8,55.6 L28.8,55.5 L29.7,55.3 L30.6,55.2 L31.5,55.0 L32.5,54.9 L33.4,54.7 L34.3,54.6 L35.3,54.4 L36.2,54.2 L37.1,54.0 L38.0,53.9 L39.0,53.7 L39.9,53.5 L40.8,53.3 L41.8,53.2 L42.7,53.0 L43.6,52.8 L44.6,52.6 L45.5,52.5 L46.5,52.3 L47.4,52.2 L48.4,52.0 L49.3,51.9 L50.3,51.8 L51.3,51.8 L52.3,51.7 L53.2,51.7 L54.2,51.6 L55.1,51.6 L56.0,51.5 L56.9,51.5 L57.8,51.4 L58.7,51.4 L59.5,51.3 L60.4,51.2 L61.2,51.1 L62.0,51.1 L62.8,51.0 L63.6,50.9 L64.4,50.8 L65.1,50.7 L65.9,50.6 L66.7,50.4 L67.5,50.3 L68.2,50.1 L69.0,50.0 L69.8,49.8 L70.6,49.6 L71.5,49.3 L72.3,49.1 L73.2,48.8 L74.1,48.4 L74.9,48.1 L75.8,47.7 L76.7,47.3 L77.5,46.9 L78.4,46.5 L79.2,46.1 L80.0,45.6 L80.8,45.2 L81.6,44.7 L82.3,44.2 L83.1,43.8 L83.8,43.2 L84.5,42.7 L85.2,42.1 L85.9,41.5 L86.6,41.0 L87.2,40.4 L87.8,39.8 L88.4,39.2 L89.0,38.6 L89.5,38.0 L90.0,37.5 L90.5,37.0 L90.9,36.5 L91.3,36.1 L91.7,35.6 L92.1,35.2 L92.4,34.8 L92.8,34.4 L93.1,34.0 L93.4,33.7 L93.6,33.4 L93.9,33.0 L94.1,32.8 L94.3,32.5 L94.5,32.3 L94.6,32.0 L94.8,31.9"/><path d="M-82.2,57.1 L-81.6,57.1 L-80.9,57.2 L-80.0,57.3 L-79.1,57.4 L-78.1,57.5 L-77.0,57.6 L-75.8,57.8 L-74.7,57.9 L-73.5,58.1 L-72.3,58.2 L-71.1,58.3 L-69.9,58.4 L-68.9,58.5 L-67.8,58.6 L-66.8,58.7 L-65.9,58.7 L-64.9,58.7 L-64.0,58.7 L-63.1,58.7 L-62.1,58.7 L-61.2,58.6 L-60.3,58.6 L-59.4,58.5 L-58.5,58.4 L-57.5,58.3 L-56.5,58.2 L-55.6,58.1 L-54.6,57.9 L-53.5,57.7 L-52.5,57.5 L-51.4,57.3 L-50.3,57.0 L-49.2,56.7 L-48.2,56.4 L-47.1,56.2 L-46.0,55.9 L-44.9,55.6 L-43.7,55.3 L-42.6,55.0 L-41.5,54.7 L-40.4,54.5 L-39.3,54.3 L-38.2,54.1 L-37.1,53.9 L-36.0,53.7 L-34.9,53.6 L-33.8,53.5 L-32.7,53.4 L-31.6,53.4 L-30.5,53.3 L-29.4,53.3 L-28.3,53.3 L-27.2,53.3 L-26.1,53.4 L-25.0,53.5 L-23.9,53.5 L-22.8,53.6 L-21.7,53.8 L-20.6,53.9 L-19.5,54.1 L-18.4,54.3 L-17.3,54.5 L-16.2,54.7 L-15.1,54.9 L-14.0,55.1 L-12.9,55.3 L-11.8,55.5 L-10.7,55.7 L-9.6,55.8 L-8.5,56.0 L-7.4,56.2 L-6.3,56.3 L-5.2,56.4 L-4.1,56.5 L-3.0,56.6 L-1.8,56.7 L-0.7,56.7 L0.4,56.8 L1.5,56.8 L2.6,56.8 L3.7,56.8 L4.8,56.7 L5.9,56.7 L6.9,56.6 L7.9,56.5 L8.9,56.4 L9.9,56.3 L10.9,56.2 L11.8,56.1 L12.7,56.0 L13.7,55.8 L14.6,55.7 L15.5,55.5 L16.4,55.4 L17.3,55.2 L18.2,55.1 L19.1,54.9 L20.1,54.8 L21.0,54.6 L21.9,54.4 L22.8,54.3 L23.7,54.1 L24.7,53.9 L25.6,53.8 L26.5,53.6 L27.5,53.4 L28.4,53.3 L29.3,53.2 L30.3,53.1 L31.3,53.0 L32.2,52.9 L33.2,52.9 L34.1,52.8 L35.1,52.8 L36.0,52.8 L37.0,52.8 L37.9,52.8 L38.9,52.8 L39.9,52.9 L40.8,52.9 L41.8,53.0 L42.7,53.0 L43.7,53.0 L44.6,53.1 L45.6,53.2 L46.5,53.2 L47.5,53.3 L48.4,53.3 L49.4,53.4 L50.3,53.5 L51.3,53.5 L52.3,53.6 L53.2,53.7 L54.2,53.7 L55.2,53.7 L56.1,53.7 L57.1,53.7 L58.0,53.6 L58.9,53.5 L59.8,53.4 L60.7,53.3 L61.5,53.1 L62.4,52.9 L63.2,52.7 L64.0,52.5 L64.7,52.3 L65.5,52.0 L66.3,51.8 L67.0,51.5 L67.8,51.2 L68.5,50.8 L69.2,50.5 L70.0,50.1 L70.7,49.7 L71.5,49.3 L72.2,48.8 L73.0,48.3 L73.7,47.8 L74.5,47.3 L75.2,46.8 L76.0,46.2 L76.7,45.7 L77.4,45.2 L78.2,44.6 L78.9,44.1 L79.6,43.5 L80.3,43.0 L81.0,42.5 L81.7,42.0 L82.4,41.5 L83.0,41.0 L83.7,40.5 L84.4,39.9 L85.1,39.4 L85.8,38.9 L86.4,38.4 L87.1,37.8 L87.7,37.4 L88.4,36.9 L89.0,36.5 L89.5,36.1 L90.1,35.7 L90.6,35.3 L91.0,35.0 L91.5,34.6 L91.9,34.3 L92.4,34.0 L92.7,33.7 L93.1,33.5 L93.4,33.2 L93.8,33.0 L94.1,32.7 L94.3,32.5 L94.6,32.3 L94.8,32.2 L95.0,32.0"/></g><g><path d="M-49.5,-65.8 L-49.7,-68.6" stroke="#0a0a0a" stroke-width="0.55"/><path d="M-49.7,-68.6 L-50.8,-70.0" stroke="#0a0a12" stroke-width="1.4"/><ellipse cx="-51.7" cy="-71.3" rx="2.35" ry="1.4" fill="url(#bu_p)" transform="rotate(-125 -51.7 -71.3)"/><path d="M-61.3,-65.9 L-61.7,-64.2" stroke="#0a0a0a" stroke-width="0.55"/><path d="M-61.7,-64.2 L-60.7,-62.8" stroke="#0a0a12" stroke-width="1.4"/><ellipse cx="-59.8" cy="-61.5" rx="2.35" ry="1.4" fill="url(#bu_o)" transform="rotate(57 -59.8 -61.5)"/><path d="M-26.0,-67.2 L-26.1,-63.8" stroke="#0a0a0a" stroke-width="0.55"/><path d="M-26.1,-63.8 L-27.1,-62.4" stroke="#0a0a12" stroke-width="1.4"/><ellipse cx="-28.0" cy="-61.1" rx="2.35" ry="1.4" fill="url(#bu_o)" transform="rotate(124 -28.0 -61.1)"/><path d="M-11.8,-69.1 L-12.0,-67.1" stroke="#0a0a0a" stroke-width="0.55"/><path d="M-12.0,-67.1 L-10.5,-66.1" stroke="#0a0a12" stroke-width="1.4"/><ellipse cx="-9.2" cy="-65.2" rx="2.35" ry="1.4" fill="url(#bu_g)" transform="rotate(36 -9.2 -65.2)"/><path d="M0.6,-70.4 L0.5,-74.4" stroke="#0a0a0a" stroke-width="0.55"/><path d="M0.5,-74.4 L-0.5,-75.8" stroke="#0a0a12" stroke-width="1.4"/><ellipse cx="-1.4" cy="-77.1" rx="2.35" ry="1.4" fill="url(#bu_r)" transform="rotate(-124 -1.4 -77.1)"/><path d="M14.6,-71.9 L14.2,-69.6" stroke="#0a0a0a" stroke-width="0.55"/><path d="M14.2,-69.6 L12.8,-68.6" stroke="#0a0a12" stroke-width="1.4"/><ellipse cx="11.5" cy="-67.6" rx="2.35" ry="1.4" fill="url(#bu_b)" transform="rotate(142 11.5 -67.6)"/><path d="M30.0,-72.2 L30.0,-72.4" stroke="#0a0a0a" stroke-width="0.55"/><path d="M30.0,-72.4 L31.1,-73.7" stroke="#0a0a12" stroke-width="1.4"/><ellipse cx="32.1" cy="-74.9" rx="2.35" ry="1.4" fill="url(#bu_g)" transform="rotate(-52 32.1 -74.9)"/><path d="M44.0,-72.7 L44.5,-69.8" stroke="#0a0a0a" stroke-width="0.55"/><path d="M44.5,-69.8 L44.3,-68.1" stroke="#0a0a12" stroke-width="1.4"/><ellipse cx="44.1" cy="-66.5" rx="2.35" ry="1.4" fill="url(#bu_p)" transform="rotate(96 44.1 -66.5)"/><path d="M60.0,-73.2 L60.3,-75.7" stroke="#0a0a0a" stroke-width="0.55"/><path d="M60.3,-75.7 L58.6,-76.0" stroke="#0a0a12" stroke-width="1.4"/><ellipse cx="57.0" cy="-76.2" rx="2.35" ry="1.4" fill="url(#bu_r)" transform="rotate(-170 57.0 -76.2)"/><path d="M65.0,-43.3 L64.3,-47.8" stroke="#0a0a0a" stroke-width="0.55"/><path d="M64.3,-47.8 L65.0,-49.4" stroke="#0a0a12" stroke-width="1.4"/><ellipse cx="65.6" cy="-50.8" rx="2.35" ry="1.4" fill="url(#bu_b)" transform="rotate(-67 65.6 -50.8)"/><path d="M77.3,-44.0 L76.9,-42.2" stroke="#0a0a0a" stroke-width="0.55"/><path d="M76.9,-42.2 L76.1,-40.7" stroke="#0a0a12" stroke-width="1.4"/><ellipse cx="75.3" cy="-39.3" rx="2.35" ry="1.4" fill="url(#bu_r)" transform="rotate(117 75.3 -39.3)"/><path d="M37.5,-28.1 L34.6,-32.4" stroke="#0a0a0a" stroke-width="0.55"/><path d="M34.6,-32.4 L34.8,-34.1" stroke="#0a0a12" stroke-width="1.4"/><ellipse cx="35.0" cy="-35.6" rx="2.35" ry="1.4" fill="url(#bu_p)" transform="rotate(-83 35.0 -35.6)"/><path d="M47.6,-34.7 L47.6,-35.3" stroke="#0a0a0a" stroke-width="0.55"/><path d="M47.6,-35.3 L47.6,-33.6" stroke="#0a0a12" stroke-width="1.4"/><ellipse cx="47.6" cy="-32.1" rx="2.35" ry="1.4" fill="url(#bu_o)" transform="rotate(90 47.6 -32.1)"/><path d="M17.1,-17.7 L17.5,-17.5" stroke="#0a0a0a" stroke-width="0.55"/><path d="M17.5,-17.5 L19.2,-16.8" stroke="#0a0a12" stroke-width="1.4"/><ellipse cx="20.7" cy="-16.1" rx="2.35" ry="1.4" fill="url(#bu_o)" transform="rotate(24 20.7 -16.1)"/><path d="M-8.2,-7.7 L-10.9,-12.1" stroke="#0a0a0a" stroke-width="0.55"/><path d="M-10.9,-12.1 L-11.0,-13.8" stroke="#0a0a12" stroke-width="1.4"/><ellipse cx="-11.1" cy="-15.4" rx="2.35" ry="1.4" fill="url(#bu_r)" transform="rotate(-93 -11.1 -15.4)"/><path d="M3.3,-13.0 L3.0,-13.2" stroke="#0a0a0a" stroke-width="0.55"/><path d="M3.0,-13.2 L2.3,-11.6" stroke="#0a0a12" stroke-width="1.4"/><ellipse cx="1.6" cy="-10.2" rx="2.35" ry="1.4" fill="url(#bu_g)" transform="rotate(114 1.6 -10.2)"/><path d="M-20.4,-2.0 L-20.7,-2.3" stroke="#0a0a0a" stroke-width="0.55"/><path d="M-20.7,-2.3 L-19.0,-1.9" stroke="#0a0a12" stroke-width="1.4"/><ellipse cx="-17.4" cy="-1.5" rx="2.35" ry="1.4" fill="url(#bu_b)" transform="rotate(14 -17.4 -1.5)"/><path d="M-35.5,4.0 L-35.8,4.1" stroke="#0a0a0a" stroke-width="0.55"/><path d="M-35.8,4.1 L-37.3,3.2" stroke="#0a0a12" stroke-width="1.4"/><ellipse cx="-38.8" cy="2.4" rx="2.35" ry="1.4" fill="url(#bu_g)" transform="rotate(-150 -38.8 2.4)"/><path d="M-62.7,18.2 L-62.5,18.0" stroke="#0a0a0a" stroke-width="0.55"/><path d="M-62.5,18.0 L-61.5,16.6" stroke="#0a0a12" stroke-width="1.4"/><ellipse cx="-60.5" cy="15.3" rx="2.35" ry="1.4" fill="url(#bu_r)" transform="rotate(-54 -60.5 15.3)"/><path d="M-48.7,11.3 L-47.1,13.9" stroke="#0a0a0a" stroke-width="0.55"/><path d="M-47.1,13.9 L-46.1,15.3" stroke="#0a0a12" stroke-width="1.4"/><ellipse cx="-45.1" cy="16.5" rx="2.35" ry="1.4" fill="url(#bu_p)" transform="rotate(54 -45.1 16.5)"/><path d="M-71.1,24.7 L-72.0,23.5" stroke="#0a0a0a" stroke-width="0.55"/><path d="M-72.0,23.5 L-73.2,22.3" stroke="#0a0a12" stroke-width="1.4"/><ellipse cx="-74.3" cy="21.2" rx="2.35" ry="1.4" fill="url(#bu_o)" transform="rotate(-133 -74.3 21.2)"/><path d="M-81.4,39.1 L-83.6,37.8" stroke="#0a0a0a" stroke-width="0.55"/><path d="M-83.6,37.8 L-83.7,36.1" stroke="#0a0a12" stroke-width="1.4"/><ellipse cx="-83.8" cy="34.6" rx="2.35" ry="1.4" fill="url(#bu_p)" transform="rotate(-93 -83.8 34.6)"/><path d="M-77.9,33.7 L-74.1,35.8" stroke="#0a0a0a" stroke-width="0.55"/><path d="M-74.1,35.8 L-73.9,37.4" stroke="#0a0a12" stroke-width="1.4"/><ellipse cx="-73.8" cy="39.0" rx="2.35" ry="1.4" fill="url(#bu_g)" transform="rotate(84 -73.8 39.0)"/><path d="M-82.2,58.0 L-84.9,52.0" stroke="#0a0a0a" stroke-width="0.55"/><path d="M-84.9,52.0 L-83.2,52.3" stroke="#0a0a12" stroke-width="1.4"/><ellipse cx="-81.5" cy="52.6" rx="2.35" ry="1.4" fill="url(#bu_b)" transform="rotate(10 -81.5 52.6)"/><path d="M-64.1,57.8 L-64.3,56.4" stroke="#0a0a0a" stroke-width="0.55"/><path d="M-64.3,56.4 L-63.6,54.9" stroke="#0a0a12" stroke-width="1.4"/><ellipse cx="-63.0" cy="53.4" rx="2.35" ry="1.4" fill="url(#bu_o)" transform="rotate(-66 -63.0 53.4)"/><path d="M-52.6,56.7 L-51.8,59.2" stroke="#0a0a0a" stroke-width="0.55"/><path d="M-51.8,59.2 L-52.5,60.8" stroke="#0a0a12" stroke-width="1.4"/><ellipse cx="-53.2" cy="62.2" rx="2.35" ry="1.4" fill="url(#bu_p)" transform="rotate(114 -53.2 62.2)"/><path d="M-29.4,54.4 L-29.4,52.1" stroke="#0a0a0a" stroke-width="0.55"/><path d="M-29.4,52.1 L-30.6,50.9" stroke="#0a0a12" stroke-width="1.4"/><ellipse cx="-31.8" cy="49.8" rx="2.35" ry="1.4" fill="url(#bu_o)" transform="rotate(-136 -31.8 49.8)"/><path d="M-14.0,54.9 L-14.2,53.6" stroke="#0a0a0a" stroke-width="0.55"/><path d="M-14.2,53.6 L-12.8,52.5" stroke="#0a0a12" stroke-width="1.4"/><ellipse cx="-11.6" cy="51.5" rx="2.35" ry="1.4" fill="url(#bu_g)" transform="rotate(-41 -11.6 51.5)"/><path d="M-1.8,55.6 L-1.7,58.7" stroke="#0a0a0a" stroke-width="0.55"/><path d="M-1.7,58.7 L-2.5,60.2" stroke="#0a0a12" stroke-width="1.4"/><ellipse cx="-3.2" cy="61.6" rx="2.35" ry="1.4" fill="url(#bu_r)" transform="rotate(115 -3.2 61.6)"/><path d="M11.8,55.9 L11.3,53.2" stroke="#0a0a0a" stroke-width="0.55"/><path d="M11.3,53.2 L9.8,52.3" stroke="#0a0a12" stroke-width="1.4"/><ellipse cx="8.5" cy="51.4" rx="2.35" ry="1.4" fill="url(#bu_b)" transform="rotate(-146 8.5 51.4)"/><path d="M27.6,54.5 L27.3,54.1" stroke="#0a0a0a" stroke-width="0.55"/><path d="M27.3,54.1 L28.5,55.4" stroke="#0a0a12" stroke-width="1.4"/><ellipse cx="29.6" cy="56.5" rx="2.35" ry="1.4" fill="url(#bu_g)" transform="rotate(47 29.6 56.5)"/><path d="M42.7,53.0 L42.1,50.2" stroke="#0a0a0a" stroke-width="0.55"/><path d="M42.1,50.2 L41.8,48.6" stroke="#0a0a12" stroke-width="1.4"/><ellipse cx="41.5" cy="47.1" rx="2.35" ry="1.4" fill="url(#bu_p)" transform="rotate(-100 41.5 47.1)"/><path d="M57.9,52.5 L57.7,53.1" stroke="#0a0a0a" stroke-width="0.55"/><path d="M57.7,53.1 L56.1,53.9" stroke="#0a0a12" stroke-width="1.4"/><ellipse cx="54.7" cy="54.6" rx="2.35" ry="1.4" fill="url(#bu_r)" transform="rotate(153 54.7 54.6)"/><path d="M67.6,50.7 L68.5,52.2" stroke="#0a0a0a" stroke-width="0.55"/><path d="M68.5,52.2 L69.0,53.9" stroke="#0a0a12" stroke-width="1.4"/><ellipse cx="69.4" cy="55.4" rx="2.35" ry="1.4" fill="url(#bu_o)" transform="rotate(74 69.4 55.4)"/><path d="M83.1,42.4 L84.3,43.5" stroke="#0a0a0a" stroke-width="0.55"/><path d="M84.3,43.5 L83.6,45.0" stroke="#0a0a12" stroke-width="1.4"/><ellipse cx="83.0" cy="46.4" rx="2.35" ry="1.4" fill="url(#bu_p)" transform="rotate(113 83.0 46.4)"/><path d="M78.7,45.3 L75.6,41.2" stroke="#0a0a0a" stroke-width="0.55"/><path d="M75.6,41.2 L76.2,39.6" stroke="#0a0a12" stroke-width="1.4"/><ellipse cx="76.6" cy="38.1" rx="2.35" ry="1.4" fill="url(#bu_g)" transform="rotate(-73 76.6 38.1)"/><path d="M94.9,31.9 L93.0,30.3" stroke="#0a0a0a" stroke-width="0.55"/><path d="M93.0,30.3 L91.4,29.6" stroke="#0a0a12" stroke-width="1.4"/><ellipse cx="89.9" cy="29.0" rx="2.35" ry="1.4" fill="url(#bu_b)" transform="rotate(-157 89.9 29.0)"/></g></g><g transform="translate(-38.06 65.26) scale(0.07585 0.07181)"><path d="M190,165 C120,140 60,180 70,225 C85,280 200,270 260,170 C285,125 300,90 312,75 C300,150 280,250 318,305 C350,290 390,180 408,108 M520,215 C490,180 430,210 425,265 C425,310 480,300 510,230 C505,270 500,300 530,300 C550,300 570,250 590,215 C600,200 620,190 615,230 C610,270 600,290 590,300 C620,240 650,190 680,195 C700,200 670,270 665,295 C690,240 720,180 750,185 C775,190 745,260 770,270 C790,275 810,255 830,230 C870,215 900,170 880,135 C850,100 800,170 810,215 C820,260 900,250 935,185" fill="none" stroke="#fbfaf8" stroke-width="27" stroke-linecap="round" stroke-linejoin="round"/><path d="M78,215 C85,262 170,262 225,205 M308,95 C298,150 284,240 312,292 M500,205 C470,195 438,225 436,262 M612,215 C612,250 604,275 596,290 M676,212 C678,235 668,270 666,288 M748,205 C752,225 748,255 768,265 M818,205 C822,240 870,250 905,222" fill="none" stroke="#fbfaf8" stroke-width="42" stroke-linecap="round" stroke-linejoin="round"/></g></g><g id="btn"><use href="#btnbase"/><ellipse cx="0.1" cy="-88.95" rx="5.0" ry="4.8" fill="#fff"/><use href="#btndeco"/></g><g id="btnnh"><use href="#btnbase"/><use href="#btndeco"/></g></defs><rect width="1024" height="1024" fill="#fff"/><text x="0" y="0" font-size="64" transform="translate(118.9 82.9) scale(0.998 1)" style="font-weight:normal" fill="#161616" stroke="#161616" stroke-width="2">Product Detail</text><g fill="#050505"><rect x="44.1" y="290" width="4" height="222.5"/><rect x="44.1" y="580.5" width="4" height="222"/><path d="M46.2,271.5 L53.2,295.2 H39.2 Z"/><path d="M46.2,822.3 L53.2,798.8 H39.2 Z"/></g><text font-size="49.5" transform="translate(22.7 547.3) scale(0.69 1)" fill="#0a0a0a">3.5<tspan dx="2.4">’’</tspan></text><ellipse cx="351.5" cy="556.0" rx="257.5" ry="272.0" fill="#7a5232" opacity="0.75" filter="url(#b3)"/><use href="#btn" transform="translate(348.0 552.5) scale(2.5750 2.7200)"/><clipPath id="cp1"><rect x="621" y="35" width="389" height="312"/></clipPath><radialGradient id="p1g" gradientUnits="userSpaceOnUse" cx="820" cy="563" r="440"><stop offset="0" stop-color="#5a4437"/><stop offset="0.74" stop-color="#5a4134"/><stop offset="0.80" stop-color="#634839"/><stop offset="0.86" stop-color="#6c5042"/><stop offset="0.895" stop-color="#7a5c4c"/><stop offset="0.93" stop-color="#694d3f"/><stop offset="0.985" stop-color="#5c4436"/><stop offset="1" stop-color="#49362a"/></radialGradient><radialGradient id="p1d" gradientUnits="userSpaceOnUse" cx="830" cy="855" r="606"><stop offset="0.9" stop-color="#150e09" stop-opacity="1"/><stop offset="0.945" stop-color="#17100a" stop-opacity="0.97"/><stop offset="0.975" stop-color="#1c130d" stop-opacity="0.55"/><stop offset="1" stop-color="#1c130d" stop-opacity="0"/></radialGradient><clipPath id="cp1c"><circle cx="820" cy="563" r="440"/></clipPath><g clip-path="url(#cp1)"><rect x="621" y="35" width="389" height="312" fill="#fff"/><circle cx="821.5" cy="565.5" r="440" fill="#8a6040" opacity="0.6" filter="url(#sh)"/><circle cx="820" cy="563" r="440" fill="url(#p1g)"/><path d="M622,232 Q700,180 790,166" fill="none" stroke="#b08a74" stroke-width="17" opacity="0.62" filter="url(#b3w)" stroke-linecap="round"/><path d="M866,166 Q950,178 1010,216" fill="none" stroke="#b08a74" stroke-width="17" opacity="0.62" filter="url(#b3w)" stroke-linecap="round"/><linearGradient id="p1lr" gradientUnits="userSpaceOnUse" x1="700" y1="0" x2="1010" y2="0"><stop offset="0" stop-color="#1a0f08" stop-opacity="0"/><stop offset="1" stop-color="#1a0f08" stop-opacity="0.22"/></linearGradient><g clip-path="url(#cp1c)"><rect x="621" y="100" width="389" height="250" fill="url(#p1lr)"/><circle cx="830" cy="855" r="606" fill="url(#p1d)"/><circle cx="825" cy="534" r="231" fill="#574235" filter="url(#b1)"/><path d="M700,342 A231,231 0 0 1 960,346" fill="none" stroke="#6a5242" stroke-width="5" opacity="0.5" filter="url(#b2)"/></g><circle cx="820" cy="563" r="440" fill="#fff" filter="url(#grain)" opacity="0.5"/><ellipse cx="779.0" cy="342.0" rx="9.0" ry="5.5" fill="#c9c0b8" filter="url(#sh)"/><ellipse cx="841.0" cy="341.0" rx="10.0" ry="6.0" fill="#c9c0b8" filter="url(#sh)"/><ellipse cx="1001.0" cy="321.0" rx="7.0" ry="2.5" fill="#c9c0b8" filter="url(#sh)"/><ellipse cx="895.0" cy="346.0" rx="6.0" ry="3.0" fill="#c9c0b8" filter="url(#sh)"/><ellipse cx="662" cy="323" rx="2" ry="3" fill="#d8d2cc"/><ellipse cx="982" cy="220" rx="1.6" ry="2.2" fill="#b9ad9c"/><ellipse cx="820.8" cy="172.4" rx="21.8" ry="22" fill="#fff"/><path d="M801,165 A21.8,22 0 0 1 838,160" fill="none" stroke="#3a2a20" stroke-width="1.5" opacity="0.5" filter="url(#sh)"/><ellipse cx="696.0" cy="295.0" rx="29.0" ry="29.0" fill="url(#gl_o)" opacity="1.00"/><ellipse cx="784.0" cy="278.0" rx="28.0" ry="28.0" fill="url(#gl_g)" opacity="1.00"/><ellipse cx="811.0" cy="223.0" rx="29.0" ry="29.0" fill="url(#gl_r)" opacity="1.00"/><ellipse cx="869.5" cy="269.0" rx="28.0" ry="28.0" fill="url(#gl_b)" opacity="1.00"/><ellipse cx="963.0" cy="233.0" rx="28.0" ry="28.0" fill="url(#gl_g)" opacity="1.00"/><ellipse cx="1006.0" cy="273.0" rx="28.0" ry="28.0" fill="url(#gl_p)" opacity="1.00"/><g fill="none" stroke="#0d0b0a" stroke-width="2.4" stroke-linecap="round" stroke-linejoin="round"><path d="M618.0,264.8 L619.4,264.9 L621.1,265.1 L623.1,265.3 L625.4,265.6 L627.9,265.8 L630.6,266.1 L633.4,266.4 L636.3,266.7 L639.4,266.9 L642.4,267.2 L645.6,267.5 L649.1,267.8 L652.9,268.1 L656.7,268.4 L660.7,268.7 L664.6,269.0 L668.5,269.2 L672.3,269.4 L675.8,269.6 L679.0,269.7 L681.9,269.8 L684.7,269.8 L687.2,269.8 L689.7,269.8 L692.0,269.7 L694.3,269.6 L696.5,269.4 L698.8,269.2 L701.1,268.9 L703.5,268.5 L705.9,268.0 L708.3,267.4 L710.8,266.7 L713.2,265.9 L715.6,265.1 L718.0,264.3 L720.4,263.4 L722.9,262.6 L725.4,261.8 L727.9,261.1 L730.4,260.4 L733.0,259.8 L735.5,259.1 L738.1,258.5 L740.7,257.9 L743.3,257.3 L746.0,256.7 L748.8,256.1 L751.7,255.6 L754.7,255.0 L757.8,254.5 L761.1,253.9 L764.6,253.4 L768.1,252.8 L771.7,252.3 L775.2,251.8 L778.8,251.3 L782.3,250.9 L785.7,250.5 L788.9,250.1 L792.0,249.8 L795.0,249.4 L798.0,249.2 L800.8,248.9 L803.7,248.7 L806.5,248.5 L809.3,248.3 L812.2,248.1 L815.1,247.9 L818.0,247.7 L821.0,247.6 L823.9,247.5 L826.9,247.4 L829.8,247.4 L832.8,247.3 L835.9,247.3 L838.9,247.2 L842.1,247.0 L845.3,246.8 L848.6,246.5 L852.0,246.1 L855.5,245.5 L859.1,244.8 L862.8,244.1 L866.5,243.4 L870.3,242.6 L874.0,241.9 L877.8,241.3 L881.5,240.8 L885.2,240.4 L888.9,240.1 L892.7,240.0 L896.6,239.8 L900.5,239.8 L904.3,239.8 L908.1,239.8 L911.8,239.9 L915.3,240.1 L918.7,240.2 L921.9,240.4 L924.8,240.6 L927.4,240.9 L929.7,241.3 L932.0,241.6 L934.1,242.0 L936.3,242.5 L938.5,242.9 L940.8,243.3 L943.4,243.7 L946.3,244.0 L949.5,244.3 L953.0,244.6 L956.7,244.9 L960.5,245.3 L964.4,245.6 L968.4,245.8 L972.2,246.1 L976.0,246.3 L979.6,246.4 L982.9,246.5 L986.1,246.5 L989.4,246.5 L992.6,246.4 L995.7,246.2 L998.7,246.1 L1001.6,245.9 L1004.2,245.7 L1006.5,245.5 L1008.4,245.4 L1010.0,245.3"/><path d="M618.0,277.0 L619.7,277.2 L621.9,277.4 L624.6,277.7 L627.5,278.1 L630.7,278.4 L634.0,278.8 L637.4,279.0 L640.8,279.3 L644.1,279.4 L647.3,279.4 L650.4,279.3 L653.4,279.1 L656.5,278.8 L659.6,278.5 L662.7,278.1 L665.8,277.7 L669.0,277.3 L672.3,276.8 L675.6,276.3 L679.0,275.8 L682.5,275.3 L686.0,274.7 L689.6,274.0 L693.3,273.4 L697.0,272.7 L700.8,272.0 L704.5,271.3 L708.3,270.7 L712.0,270.2 L715.7,269.7 L719.4,269.3 L723.0,269.0 L726.7,268.8 L730.3,268.6 L734.0,268.4 L737.7,268.2 L741.3,268.0 L745.0,267.8 L748.6,267.5 L752.3,267.2 L756.0,266.8 L759.8,266.4 L763.7,265.9 L767.6,265.5 L771.4,264.9 L775.2,264.4 L778.9,263.9 L782.4,263.4 L785.8,262.9 L788.9,262.4 L791.8,261.9 L794.4,261.4 L796.8,261.0 L799.0,260.5 L801.2,260.0 L803.3,259.6 L805.4,259.1 L807.5,258.6 L809.7,258.0 L812.0,257.5 L814.4,256.9 L816.8,256.3 L819.2,255.6 L821.7,255.0 L824.1,254.3 L826.6,253.6 L829.0,253.0 L831.5,252.4 L834.0,251.9 L836.4,251.4 L838.8,251.0 L841.2,250.6 L843.5,250.2 L845.8,249.8 L848.1,249.5 L850.5,249.3 L852.9,249.1 L855.4,248.9 L858.1,248.9 L860.8,248.9 L863.7,249.0 L866.7,249.3 L869.9,249.6 L873.1,250.0 L876.4,250.4 L879.7,250.9 L883.0,251.4 L886.3,251.8 L889.5,252.3 L892.6,252.6 L895.6,252.9 L898.5,253.2 L901.3,253.5 L904.1,253.8 L907.0,254.0 L909.8,254.3 L912.7,254.5 L915.6,254.7 L918.7,254.9 L921.9,255.0 L925.3,255.1 L928.9,255.2 L932.7,255.3 L936.6,255.3 L940.5,255.4 L944.4,255.4 L948.2,255.3 L951.8,255.3 L955.3,255.2 L958.5,255.0 L961.4,254.8 L964.1,254.5 L966.6,254.2 L969.0,253.9 L971.3,253.5 L973.5,253.1 L975.8,252.7 L978.0,252.3 L980.4,251.8 L982.9,251.4 L985.6,250.9 L988.6,250.3 L991.7,249.7 L994.8,249.1 L998.0,248.5 L1001.0,247.9 L1003.8,247.3 L1006.3,246.8 L1008.4,246.3 L1010.0,246.0"/></g><g transform="translate(698.5 286.0) rotate(128)"><path d="M-10.5,-5.8 L-19.0,-3.2 L-19.0,3.2 L-10.5,5.8 Z" fill="#0a0a16"/><ellipse cx="0" cy="0" rx="12.0" ry="7.2" fill="url(#bu_o)"/><ellipse cx="1.8" cy="-2.2" rx="6.0" ry="2.2" fill="#fff" opacity="0.45"/></g><g transform="translate(780.5 268.5) rotate(40)"><path d="M-10.5,-5.8 L-19.0,-3.2 L-19.0,3.2 L-10.5,5.8 Z" fill="#0a0a16"/><ellipse cx="0" cy="0" rx="12.0" ry="7.2" fill="url(#bu_g)"/><ellipse cx="1.8" cy="-2.2" rx="6.0" ry="2.2" fill="#fff" opacity="0.45"/></g><g transform="translate(816.0 228.0) rotate(-118)"><path d="M-10.0,-5.6 L-18.5,-3.1 L-18.5,3.1 L-10.0,5.6 Z" fill="#0a0a16"/><ellipse cx="0" cy="0" rx="11.5" ry="7.0" fill="url(#bu_r)"/><ellipse cx="1.7" cy="-2.1" rx="5.8" ry="2.1" fill="#fff" opacity="0.45"/></g><g transform="translate(875.0 264.5) rotate(142)"><path d="M-10.5,-5.8 L-19.0,-3.2 L-19.0,3.2 L-10.5,5.8 Z" fill="#0a0a16"/><ellipse cx="0" cy="0" rx="12.0" ry="7.2" fill="url(#bu_b)"/><ellipse cx="1.8" cy="-2.2" rx="6.0" ry="2.2" fill="#fff" opacity="0.45"/></g><g transform="translate(957.0 235.0) rotate(-54)"><path d="M-10.5,-5.8 L-19.0,-3.2 L-19.0,3.2 L-10.5,5.8 Z" fill="#0a0a16"/><ellipse cx="0" cy="0" rx="12.0" ry="7.2" fill="url(#bu_g)"/><ellipse cx="1.8" cy="-2.2" rx="6.0" ry="2.2" fill="#fff" opacity="0.45"/></g></g><g fill="#050505"><rect x="831.4" y="160" width="2.6" height="26"/><path d="M832.7,149.2 L839.8,162.6 H825.6 Z"/><path d="M832.7,196.4 L839.8,183 H825.6 Z"/></g><path d="M896.6,94.5 C897.5,112 893,124 883,131.5 C876,136.5 866,139 862.5,134.5 C860,130.5 864,127 868,129 C872,131.5 871.5,138 868.5,144 C864,154 854,163 844,169.5 M848,160 L843.6,169.8 L851.4,174.6" fill="none" stroke="#050505" stroke-width="3" stroke-linecap="round" stroke-linejoin="round"/><text x="863" y="89.3" font-size="33.2" fill="#050505">3mm</text><path d="M618.5,349.5 V32.5 H1012.5" fill="none" stroke="#111" stroke-width="5" transform="translate(2.5 2.5)"/><path d="M1010,35 V347 H618.5" fill="none" stroke="#2e1c0c" stroke-width="4.6"/><path d="M1010.2,33 V166" fill="none" stroke="#111" stroke-width="4.7"/><clipPath id="cp2"><rect x="621" y="358" width="389" height="313"/></clipPath><clipPath id="cp2e"><ellipse cx="725" cy="345" rx="275" ry="185"/></clipPath><clipPath id="cp2s"><ellipse cx="725" cy="365" rx="275" ry="185"/></clipPath><linearGradient id="p2band" x1="0" y1="0" x2="1" y2="0"><stop offset="0" stop-color="#4a2d12"/><stop offset="0.5" stop-color="#3a230f"/><stop offset="0.8" stop-color="#4e3014"/><stop offset="1" stop-color="#2a1a0c"/></linearGradient><g clip-path="url(#cp2)"><rect x="621" y="358" width="389" height="313" fill="#fff"/><ellipse cx="729" cy="368" rx="275" ry="185" fill="#8a6040" opacity="0.55" filter="url(#b2)"/><ellipse cx="725" cy="365" rx="275" ry="185" fill="url(#p2band)"/><g clip-path="url(#cp2s)"><use href="#btnbase" transform="translate(725 356) scale(2.75 1.86)"/><path d="M400,300 H1050 V600 H400 Z M450,345 a275,185 0 1,0 550,0 a275,185 0 1,0 -550,0 Z" fill-rule="evenodd" fill="#55340f"/><path d="M400,300 H1050 V600 H400 Z M450,354.5 a275,185 0 1,0 550,0 a275,185 0 1,0 -550,0 Z" fill-rule="evenodd" fill="#1d1209" opacity="0.9" filter="url(#sh)"/><path d="M620,524 Q725,540 830,518" fill="none" stroke="#7a4c18" stroke-width="3" opacity="0.45" filter="url(#sh)"/></g><ellipse cx="725" cy="345" rx="275" ry="185" fill="none" stroke="#6e4618" stroke-width="1.4" opacity="0.75" clip-path="url(#cp2s)"/><g clip-path="url(#cp2e)"><path d="M560,480 Q725,572 905,468" fill="none" stroke="#0f0906" stroke-width="14" opacity="0.55" filter="url(#b3)" transform="translate(0 6)"/><path d="M560,470 Q725,560 905,470" fill="none" stroke="#6b5343" stroke-width="26" opacity="0.5" filter="url(#b3)"/><linearGradient id="p2gr" gradientUnits="userSpaceOnUse" x1="905" y1="385" x2="740" y2="480"><stop offset="0" stop-color="#0f0906" stop-opacity="1"/><stop offset="0.45" stop-color="#0f0906" stop-opacity="0.8"/><stop offset="1" stop-color="#0f0906" stop-opacity="0"/></linearGradient><path d="M906,340 A182,120 0 0 1 693,474" fill="none" stroke="url(#p2gr)" stroke-width="24" opacity="0.9" filter="url(#b3w)"/><ellipse cx="627.8" cy="417.0" rx="9.5" ry="5.8" fill="#3a2a20" opacity="0.6" transform="translate(1.5 1.5)"/><ellipse cx="627.8" cy="417.0" rx="9.5" ry="5.8" fill="url(#dot)"/><path d="M623.8,417.5 l6,-2.5 M625.8,419.8 l6,-2.5" stroke="#8c8177" stroke-width="1" opacity="0.7"/><ellipse cx="648.5" cy="435.6" rx="9.5" ry="5.8" fill="#3a2a20" opacity="0.6" transform="translate(1.5 1.5)"/><ellipse cx="648.5" cy="435.6" rx="9.5" ry="5.8" fill="url(#dot)"/><path d="M644.5,436.1 l6,-2.5 M646.5,438.4 l6,-2.5" stroke="#8c8177" stroke-width="1" opacity="0.7"/><ellipse cx="674.2" cy="445.8" rx="9.5" ry="5.8" fill="#3a2a20" opacity="0.6" transform="translate(1.5 1.5)"/><ellipse cx="674.2" cy="445.8" rx="9.5" ry="5.8" fill="url(#dot)"/><path d="M670.2,446.3 l6,-2.5 M672.2,448.6 l6,-2.5" stroke="#8c8177" stroke-width="1" opacity="0.7"/><ellipse cx="706.4" cy="453.1" rx="9.5" ry="5.8" fill="#3a2a20" opacity="0.6" transform="translate(1.5 1.5)"/><ellipse cx="706.4" cy="453.1" rx="9.5" ry="5.8" fill="url(#dot)"/><path d="M702.4,453.6 l6,-2.5 M704.4,455.9 l6,-2.5" stroke="#8c8177" stroke-width="1" opacity="0.7"/><ellipse cx="741.3" cy="454.4" rx="9.5" ry="5.8" fill="#3a2a20" opacity="0.6" transform="translate(1.5 1.5)"/><ellipse cx="741.3" cy="454.4" rx="9.5" ry="5.8" fill="url(#dot)"/><path d="M737.3,454.9 l6,-2.5 M739.3,457.2 l6,-2.5" stroke="#8c8177" stroke-width="1" opacity="0.7"/><ellipse cx="775.5" cy="450.7" rx="9.5" ry="5.8" fill="#3a2a20" opacity="0.6" transform="translate(1.5 1.5)"/><ellipse cx="775.5" cy="450.7" rx="9.5" ry="5.8" fill="url(#dot)"/><path d="M771.5,451.2 l6,-2.5 M773.5,453.5 l6,-2.5" stroke="#8c8177" stroke-width="1" opacity="0.7"/><ellipse cx="806.5" cy="441.7" rx="9.5" ry="5.8" fill="#3a2a20" opacity="0.6" transform="translate(1.5 1.5)"/><ellipse cx="806.5" cy="441.7" rx="9.5" ry="5.8" fill="url(#dot)"/><path d="M802.5,442.2 l6,-2.5 M804.5,444.5 l6,-2.5" stroke="#8c8177" stroke-width="1" opacity="0.7"/><ellipse cx="834.0" cy="427.8" rx="9.5" ry="5.8" fill="#3a2a20" opacity="0.6" transform="translate(1.5 1.5)"/><ellipse cx="834.0" cy="427.8" rx="9.5" ry="5.8" fill="url(#dot)"/><path d="M830.0,428.3 l6,-2.5 M832.0,430.6 l6,-2.5" stroke="#8c8177" stroke-width="1" opacity="0.7"/><ellipse cx="852.3" cy="411.6" rx="9.5" ry="5.8" fill="#3a2a20" opacity="0.6" transform="translate(1.5 1.5)"/><ellipse cx="852.3" cy="411.6" rx="9.5" ry="5.8" fill="url(#dot)"/><path d="M848.3,412.1 l6,-2.5 M850.3,414.4 l6,-2.5" stroke="#8c8177" stroke-width="1" opacity="0.7"/><ellipse cx="866.2" cy="389.2" rx="9.5" ry="5.8" fill="#3a2a20" opacity="0.6" transform="translate(1.5 1.5)"/><ellipse cx="866.2" cy="389.2" rx="9.5" ry="5.8" fill="url(#dot)"/><path d="M862.2,389.7 l6,-2.5 M864.2,392.0 l6,-2.5" stroke="#8c8177" stroke-width="1" opacity="0.7"/><ellipse cx="868.2" cy="370.1" rx="9.5" ry="5.8" fill="#3a2a20" opacity="0.6" transform="translate(1.5 1.5)"/><ellipse cx="868.2" cy="370.1" rx="9.5" ry="5.8" fill="url(#dot)"/><path d="M864.2,370.6 l6,-2.5 M866.2,372.9 l6,-2.5" stroke="#8c8177" stroke-width="1" opacity="0.7"/><ellipse cx="684" cy="371" rx="11" ry="6" fill="#0f0a07" opacity="0.8" filter="url(#sh)"/><ellipse cx="798" cy="389" rx="12" ry="6" fill="#0f0a07" opacity="0.8" filter="url(#sh)"/><ellipse cx="727" cy="403" rx="17" ry="11" fill="#0f0a07" opacity="0.9" filter="url(#sh)"/><path d="M683,365 L800,382 L797,392 L684,376 Z" fill="#8b7556" stroke="#4f3d29" stroke-width="1"/><path d="M686,368 L798,385" stroke="#b3a07c" stroke-width="2.5" opacity="0.8"/><path d="M741,352 L760,360 Q752,385 738,408 Q730,413 720,408 Q722,385 741,352 Z" fill="#8b7556" stroke="#4f3d29" stroke-width="1"/><path d="M748,362 Q738,385 728,406 M753,365 Q744,388 734,408" stroke="#b3a07c" stroke-width="2" opacity="0.7" fill="none"/><ellipse cx="629.0" cy="425.8" rx="16.2" ry="13.0" fill="url(#gl_b)" opacity="1.00"/><ellipse cx="637.5" cy="458.8" rx="18.8" ry="12.3" fill="url(#gl_g)" opacity="1.00"/><ellipse cx="672.9" cy="466.8" rx="21.2" ry="13.0" fill="url(#gl_p)" opacity="1.00"/><ellipse cx="668.0" cy="491.2" rx="20.0" ry="12.3" fill="url(#gl_r)" opacity="1.00"/><ellipse cx="680.3" cy="513.2" rx="20.0" ry="13.0" fill="url(#gl_o)" opacity="1.00"/><ellipse cx="733.2" cy="511.2" rx="20.0" ry="12.3" fill="url(#gl_g)" opacity="1.00"/><ellipse cx="715.7" cy="525.9" rx="21.2" ry="11.7" fill="url(#gl_p)" opacity="1.00"/><ellipse cx="768.1" cy="522.2" rx="18.8" ry="13.0" fill="url(#gl_b)" opacity="1.00"/><ellipse cx="763.3" cy="372.6" rx="17.5" ry="11.7" fill="url(#gl_g)" opacity="1.00"/><ellipse cx="799.9" cy="394.1" rx="20.0" ry="11.7" fill="url(#gl_o)" opacity="1.00"/><ellipse cx="863.3" cy="400.9" rx="18.8" ry="13.0" fill="url(#gl_p)" opacity="1.00"/><ellipse cx="863.3" cy="420.9" rx="20.0" ry="13.0" fill="url(#gl_o)" opacity="1.00"/><ellipse cx="931.6" cy="432.6" rx="18.8" ry="11.7" fill="url(#gl_b)" opacity="1.00"/><ellipse cx="910.9" cy="452.7" rx="21.2" ry="13.0" fill="url(#gl_r)" opacity="1.00"/><ellipse cx="951.2" cy="369.6" rx="17.5" ry="11.1" fill="url(#gl_g)" opacity="1.00"/><ellipse cx="941.4" cy="391.6" rx="21.2" ry="11.7" fill="url(#gl_p)" opacity="1.00"/><ellipse cx="976.8" cy="401.9" rx="18.8" ry="13.0" fill="url(#gl_r)" opacity="1.00"/><ellipse cx="965.8" cy="444.1" rx="12.0" ry="11.0" fill="url(#gl_g)" opacity="1.00"/><g fill="none" stroke="#0d0b0a" stroke-width="1.2" stroke-linecap="round"><path d="M618.0,428.2 L618.2,428.5 L618.4,428.7 L618.6,429.0 L618.9,429.3 L619.2,429.6 L619.6,430.1 L620.2,430.6 L620.9,431.3 L621.8,432.1 L622.9,433.1 L624.3,434.3 L625.9,435.7 L627.8,437.3 L629.9,439.0 L632.0,440.8 L634.2,442.6 L636.5,444.5 L638.6,446.4 L640.6,448.4 L642.4,450.2 L644.1,452.1 L645.6,453.9 L647.1,455.8 L648.5,457.7 L649.9,459.7 L651.3,461.6 L652.6,463.6 L654.1,465.6 L655.5,467.7 L657.1,469.7 L658.7,471.9 L660.3,474.1 L662.0,476.4 L663.7,478.7 L665.5,481.0 L667.2,483.3 L668.9,485.6 L670.7,487.8 L672.4,489.8 L674.2,491.7 L675.8,493.5 L677.5,495.2 L679.0,496.8 L680.6,498.3 L682.2,499.8 L683.9,501.2 L685.6,502.6 L687.4,503.9 L689.2,505.1 L691.2,506.4 L693.4,507.5 L695.7,508.6 L698.0,509.7 L700.5,510.6 L703.0,511.6 L705.5,512.5 L708.1,513.4 L710.7,514.3 L713.2,515.2 L715.7,516.1 L718.1,517.1 L720.5,518.2 L723.0,519.2 L725.4,520.3 L727.9,521.3 L730.3,522.3 L732.7,523.3 L735.2,524.3 L737.6,525.1 L740.1,525.9 L742.6,526.6 L745.3,527.3 L748.2,527.9 L751.0,528.4 L753.8,529.0 L756.5,529.4 L759.0,529.8 L761.2,530.2 L763.0,530.5 L764.5,530.8"/><path d="M621.0,424.2 L621.2,424.5 L621.4,424.7 L621.6,425.0 L621.9,425.3 L622.2,425.6 L622.6,426.1 L623.2,426.6 L623.9,427.3 L624.8,428.1 L625.9,429.1 L627.3,430.3 L628.9,431.7 L630.8,433.3 L632.9,435.0 L635.0,436.8 L637.2,438.6 L639.5,440.5 L641.6,442.4 L643.6,444.4 L645.4,446.2 L647.1,448.1 L648.6,449.9 L650.1,451.8 L651.5,453.7 L652.9,455.7 L654.3,457.6 L655.6,459.6 L657.1,461.6 L658.5,463.7 L660.1,465.7 L661.7,467.9 L663.3,470.1 L665.0,472.4 L666.7,474.7 L668.5,477.0 L670.2,479.3 L671.9,481.6 L673.7,483.8 L675.4,485.8 L677.2,487.7 L678.8,489.5 L680.5,491.2 L682.0,492.8 L683.6,494.3 L685.2,495.8 L686.9,497.2 L688.6,498.6 L690.4,499.9 L692.2,501.1 L694.2,502.4 L696.4,503.5 L698.7,504.6 L701.0,505.7 L703.5,506.6 L706.0,507.6 L708.5,508.5 L711.1,509.4 L713.7,510.3 L716.2,511.2 L718.7,512.1 L721.1,513.1 L723.5,514.2 L726.0,515.2 L728.4,516.3 L730.9,517.3 L733.3,518.3 L735.7,519.3 L738.2,520.3 L740.6,521.1 L743.1,521.9 L745.6,522.6 L748.3,523.3 L751.2,523.9 L754.0,524.4 L756.8,525.0 L759.5,525.4 L762.0,525.8 L764.2,526.2 L766.0,526.5 L767.5,526.8"/><path d="M751.1,361.1 L752.6,361.8 L754.6,362.8 L757.0,363.9 L759.6,365.1 L762.5,366.4 L765.5,367.8 L768.5,369.3 L771.4,370.7 L774.2,372.0 L776.7,373.3 L779.0,374.5 L781.4,375.8 L783.6,377.1 L785.9,378.4 L788.1,379.6 L790.2,380.9 L792.4,382.1 L794.5,383.3 L796.6,384.4 L798.7,385.5 L800.7,386.5 L802.5,387.4 L804.3,388.3 L806.0,389.1 L807.8,389.9 L809.5,390.7 L811.4,391.5 L813.4,392.3 L815.6,393.2 L818.0,394.1 L820.6,395.0 L823.4,395.9 L826.4,396.8 L829.5,397.7 L832.7,398.6 L835.9,399.6 L839.2,400.6 L842.4,401.6 L845.6,402.7 L848.6,403.8 L851.7,405.0 L854.7,406.3 L857.8,407.7 L860.9,409.1 L864.0,410.5 L867.0,412.0 L869.9,413.4 L872.7,414.7 L875.4,416.0 L877.9,417.3 L880.3,418.4 L882.4,419.5 L884.5,420.5 L886.4,421.5 L888.3,422.4 L890.1,423.4 L891.9,424.3 L893.7,425.2 L895.5,426.1 L897.4,427.0 L899.4,427.9 L901.5,428.7 L903.5,429.4 L905.6,430.1 L907.7,430.8 L909.7,431.6 L911.7,432.4 L913.5,433.3 L915.3,434.4 L917.0,435.6 L918.5,436.9 L919.9,438.4 L921.3,440.0 L922.5,441.7 L923.7,443.5 L924.8,445.3 L925.9,447.1 L927.0,449.0 L928.1,450.8 L929.2,452.7 L930.3,454.6 L931.5,456.6 L932.6,458.8 L933.7,461.0 L934.8,463.2 L935.9,465.4 L936.8,467.3 L937.7,469.1 L938.4,470.6 L939.0,471.7"/><path d="M753.1,366.1 L754.6,366.8 L756.6,367.8 L759.0,368.9 L761.6,370.1 L764.5,371.4 L767.5,372.8 L770.5,374.3 L773.4,375.7 L776.2,377.0 L778.7,378.3 L781.0,379.5 L783.4,380.8 L785.6,382.1 L787.9,383.4 L790.1,384.6 L792.2,385.9 L794.4,387.1 L796.5,388.3 L798.6,389.4 L800.7,390.5 L802.7,391.5 L804.5,392.4 L806.3,393.3 L808.0,394.1 L809.8,394.9 L811.5,395.7 L813.4,396.5 L815.4,397.3 L817.6,398.2 L820.0,399.1 L822.6,400.0 L825.4,400.9 L828.4,401.8 L831.5,402.7 L834.7,403.6 L837.9,404.6 L841.2,405.6 L844.4,406.6 L847.6,407.7 L850.6,408.8 L853.7,410.0 L856.7,411.3 L859.8,412.7 L862.9,414.1 L866.0,415.5 L869.0,417.0 L871.9,418.4 L874.7,419.7 L877.4,421.0 L879.9,422.3 L882.3,423.4 L884.5,424.5 L886.6,425.7 L888.5,426.7 L890.4,427.8 L892.2,428.7 L894.0,429.7 L895.8,430.5 L897.6,431.3 L899.4,432.0 L901.3,432.6 L903.2,432.9 L905.0,433.1 L906.9,433.2 L908.7,433.3 L910.4,433.5 L912.2,433.7 L913.8,434.1 L915.5,434.7 L917.0,435.6 L918.4,436.7 L919.8,438.1 L921.1,439.6 L922.4,441.3 L923.6,443.1 L924.7,445.0 L925.9,447.0 L927.0,448.9 L928.1,450.8 L929.2,452.7 L930.3,454.6 L931.5,456.6 L932.6,458.8 L933.7,461.0 L934.8,463.2 L935.9,465.4 L936.8,467.3 L937.7,469.1 L938.4,470.6 L939.0,471.7"/><path d="M929.2,362.3 L930.1,363.1 L931.2,364.2 L932.6,365.4 L934.1,366.8 L935.7,368.3 L937.4,369.8 L939.2,371.4 L940.8,372.9 L942.4,374.4 L943.8,375.8 L945.2,377.0 L946.4,378.3 L947.7,379.6 L948.9,380.9 L950.1,382.2 L951.3,383.4 L952.5,384.6 L953.6,385.8 L954.8,386.9 L956.0,388.0 L957.3,388.9 L958.5,389.8 L959.7,390.6 L960.9,391.4 L962.1,392.2 L963.4,392.9 L964.6,393.7 L965.8,394.5 L967.0,395.5 L968.2,396.5 L969.5,397.7 L970.8,398.9 L972.1,400.2 L973.5,401.6 L974.8,403.0 L976.1,404.4 L977.3,405.8 L978.5,407.2 L979.5,408.6 L980.5,409.9 L981.3,411.3 L982.0,412.6 L982.6,414.1 L983.2,415.5 L983.7,416.9 L984.1,418.2 L984.5,419.4 L984.8,420.5 L985.1,421.4 L985.3,422.1"/><path d="M925.2,365.3 L926.1,366.1 L927.2,367.2 L928.6,368.4 L930.1,369.8 L931.7,371.3 L933.4,372.8 L935.2,374.4 L936.8,375.9 L938.4,377.4 L939.8,378.8 L941.2,380.0 L942.4,381.3 L943.7,382.6 L944.9,383.9 L946.1,385.2 L947.3,386.4 L948.5,387.6 L949.6,388.8 L950.8,389.9 L952.0,391.0 L953.3,391.9 L954.5,392.8 L955.7,393.6 L956.9,394.4 L958.1,395.2 L959.4,395.9 L960.6,396.7 L961.8,397.5 L963.0,398.5 L964.2,399.5 L965.5,400.7 L966.7,401.9 L968.0,403.3 L969.3,404.7 L970.6,406.2 L971.8,407.6 L973.0,409.1 L974.2,410.4 L975.4,411.7 L976.5,412.9 L977.5,414.1 L978.6,415.2 L979.6,416.3 L980.7,417.4 L981.7,418.4 L982.6,419.3 L983.4,420.2 L984.2,421.0 L984.8,421.6 L985.3,422.1"/></g><g transform="translate(629.2 427.3) rotate(90)"><path d="M-4.0,-2.2 L-8.5,-1.2 L-8.5,1.2 L-4.0,2.2 Z" fill="#0a0a16"/><ellipse cx="0" cy="0" rx="5.5" ry="2.7" fill="url(#bu_b)"/><ellipse cx="0.8" cy="-0.8" rx="2.8" ry="0.8" fill="#fff" opacity="0.45"/></g><g transform="translate(638.8 456.3) rotate(180)"><path d="M-4.0,-2.2 L-8.5,-1.2 L-8.5,1.2 L-4.0,2.2 Z" fill="#0a0a16"/><ellipse cx="0" cy="0" rx="5.5" ry="2.7" fill="url(#bu_g)"/><ellipse cx="0.8" cy="-0.8" rx="2.8" ry="0.8" fill="#fff" opacity="0.45"/></g><g transform="translate(669.3 468.5) rotate(160)"><path d="M-4.0,-2.2 L-8.5,-1.2 L-8.5,1.2 L-4.0,2.2 Z" fill="#0a0a16"/><ellipse cx="0" cy="0" rx="5.5" ry="2.7" fill="url(#bu_p)"/><ellipse cx="0.8" cy="-0.8" rx="2.8" ry="0.8" fill="#fff" opacity="0.45"/></g><g transform="translate(671.2 491.7) rotate(175)"><path d="M-4.0,-2.2 L-8.5,-1.2 L-8.5,1.2 L-4.0,2.2 Z" fill="#0a0a16"/><ellipse cx="0" cy="0" rx="5.5" ry="2.7" fill="url(#bu_r)"/><ellipse cx="0.8" cy="-0.8" rx="2.8" ry="0.8" fill="#fff" opacity="0.45"/></g><g transform="translate(683.9 511.2) rotate(165)"><path d="M-4.0,-2.2 L-8.5,-1.2 L-8.5,1.2 L-4.0,2.2 Z" fill="#0a0a16"/><ellipse cx="0" cy="0" rx="5.5" ry="2.7" fill="url(#bu_o)"/><ellipse cx="0.8" cy="-0.8" rx="2.8" ry="0.8" fill="#fff" opacity="0.45"/></g><g transform="translate(729.1 512.5) rotate(0)"><path d="M-4.0,-2.2 L-8.5,-1.2 L-8.5,1.2 L-4.0,2.2 Z" fill="#0a0a16"/><ellipse cx="0" cy="0" rx="5.5" ry="2.7" fill="url(#bu_g)"/><ellipse cx="0.8" cy="-0.8" rx="2.8" ry="0.8" fill="#fff" opacity="0.45"/></g><g transform="translate(721.8 525.9) rotate(185)"><path d="M-4.0,-2.2 L-8.5,-1.2 L-8.5,1.2 L-4.0,2.2 Z" fill="#0a0a16"/><ellipse cx="0" cy="0" rx="5.5" ry="2.7" fill="url(#bu_p)"/><ellipse cx="0.8" cy="-0.8" rx="2.8" ry="0.8" fill="#fff" opacity="0.45"/></g><g transform="translate(768.9 523.9) rotate(90)"><path d="M-4.0,-2.2 L-8.5,-1.2 L-8.5,1.2 L-4.0,2.2 Z" fill="#0a0a16"/><ellipse cx="0" cy="0" rx="5.5" ry="2.7" fill="url(#bu_b)"/><ellipse cx="0.8" cy="-0.8" rx="2.8" ry="0.8" fill="#fff" opacity="0.45"/></g><g transform="translate(765.7 371.6) rotate(185)"><path d="M-4.0,-2.2 L-8.5,-1.2 L-8.5,1.2 L-4.0,2.2 Z" fill="#0a0a16"/><ellipse cx="0" cy="0" rx="5.5" ry="2.7" fill="url(#bu_g)"/><ellipse cx="0.8" cy="-0.8" rx="2.8" ry="0.8" fill="#fff" opacity="0.45"/></g><g transform="translate(800.6 392.1) rotate(90)"><path d="M-4.0,-2.2 L-8.5,-1.2 L-8.5,1.2 L-4.0,2.2 Z" fill="#0a0a16"/><ellipse cx="0" cy="0" rx="5.5" ry="2.7" fill="url(#bu_o)"/><ellipse cx="0.8" cy="-0.8" rx="2.8" ry="0.8" fill="#fff" opacity="0.45"/></g><g transform="translate(858.4 401.4) rotate(175)"><path d="M-4.0,-2.2 L-8.5,-1.2 L-8.5,1.2 L-4.0,2.2 Z" fill="#0a0a16"/><ellipse cx="0" cy="0" rx="5.5" ry="2.7" fill="url(#bu_p)"/><ellipse cx="0.8" cy="-0.8" rx="2.8" ry="0.8" fill="#fff" opacity="0.45"/></g><g transform="translate(868.6 419.7) rotate(170)"><path d="M-4.0,-2.2 L-8.5,-1.2 L-8.5,1.2 L-4.0,2.2 Z" fill="#0a0a16"/><ellipse cx="0" cy="0" rx="5.5" ry="2.7" fill="url(#bu_o)"/><ellipse cx="0.8" cy="-0.8" rx="2.8" ry="0.8" fill="#fff" opacity="0.45"/></g><g transform="translate(928.0 433.6) rotate(0)"><path d="M-4.0,-2.2 L-8.5,-1.2 L-8.5,1.2 L-4.0,2.2 Z" fill="#0a0a16"/><ellipse cx="0" cy="0" rx="5.5" ry="2.7" fill="url(#bu_b)"/><ellipse cx="0.8" cy="-0.8" rx="2.8" ry="0.8" fill="#fff" opacity="0.45"/></g><g transform="translate(914.5 453.9) rotate(180)"><path d="M-4.0,-2.2 L-8.5,-1.2 L-8.5,1.2 L-4.0,2.2 Z" fill="#0a0a16"/><ellipse cx="0" cy="0" rx="5.5" ry="2.7" fill="url(#bu_r)"/><ellipse cx="0.8" cy="-0.8" rx="2.8" ry="0.8" fill="#fff" opacity="0.45"/></g><g transform="translate(946.3 368.4) rotate(0)"><path d="M-4.0,-2.2 L-8.5,-1.2 L-8.5,1.2 L-4.0,2.2 Z" fill="#0a0a16"/><ellipse cx="0" cy="0" rx="5.5" ry="2.7" fill="url(#bu_g)"/><ellipse cx="0.8" cy="-0.8" rx="2.8" ry="0.8" fill="#fff" opacity="0.45"/></g><g transform="translate(947.5 390.4) rotate(185)"><path d="M-4.0,-2.2 L-8.5,-1.2 L-8.5,1.2 L-4.0,2.2 Z" fill="#0a0a16"/><ellipse cx="0" cy="0" rx="5.5" ry="2.7" fill="url(#bu_p)"/><ellipse cx="0.8" cy="-0.8" rx="2.8" ry="0.8" fill="#fff" opacity="0.45"/></g><g transform="translate(978.0 403.3) rotate(60)"><path d="M-4.0,-2.2 L-8.5,-1.2 L-8.5,1.2 L-4.0,2.2 Z" fill="#0a0a16"/><ellipse cx="0" cy="0" rx="5.5" ry="2.7" fill="url(#bu_r)"/><ellipse cx="0.8" cy="-0.8" rx="2.8" ry="0.8" fill="#fff" opacity="0.45"/></g></g><ellipse cx="712.0" cy="544.5" rx="18.0" ry="5.5" fill="url(#gl_p)" opacity="0.90"/><ellipse cx="764.0" cy="542.5" rx="11.0" ry="5.0" fill="url(#gl_b)" opacity="0.80"/><ellipse cx="962.0" cy="460.0" rx="7.0" ry="9.0" fill="url(#gl_g)" opacity="0.80"/></g><g fill="#050505"><rect x="815.6" y="526" width="2" height="17"/><path d="M816.6,520.8 L821,529 H812.2 Z"/><path d="M816.6,548 L821,539.8 H812.2 Z"/></g><path d="M836.5,528.8 L830,533.6 L840.4,543.2 M830.5,533.5 C840,531 850,534 858,540 C866,546 869,553 866,558.5 C863,563 856,561 857.5,556 C859,551.5 868,550.5 876,551.5 C892,553.5 903,566 910.6,583.5" fill="none" stroke="#050505" stroke-width="3" stroke-linecap="round" stroke-linejoin="round"/><text x="640" y="637.6" font-size="33.65" fill="#050505">Thickness: 3mm</text><rect x="621" y="358" width="389" height="312.8" fill="none" stroke="#111" stroke-width="5"/><rect x="618.5" y="669" width="394" height="3.8" fill="#111"/><clipPath id="cp3"><rect x="621" y="680.5" width="389" height="312"/></clipPath><g clip-path="url(#cp3)"><rect x="621" y="680.5" width="389" height="312" fill="#fff"/><circle cx="719" cy="856" r="84" fill="#8a6040" opacity="0.6" filter="url(#b2)"/><use href="#btnnh" transform="translate(716.5 852.8) scale(0.835 0.839)"/><g fill="none" stroke-linecap="butt"><path d="M707.6,698.3 L714.4,747 M727.4,698.3 L717.8,748" stroke="#f0d21e" stroke-width="4"/><path d="M707.6,698.3 L714.4,747 M727.4,698.3 L717.8,748" stroke="#8c6a12" stroke-width="4" stroke-dasharray="1.7 3.1" opacity="0.85"/><path d="M715.8,757 L715.8,777.5" stroke="#e2a818" stroke-width="7"/><path d="M715.8,757 L715.8,777.5" stroke="#a8641a" stroke-width="7" stroke-dasharray="1.6 3" opacity="0.7"/><ellipse cx="715.7" cy="755.2" rx="5.9" ry="4.9" fill="#e3a416" stroke="#b97a14" stroke-width="1"/><path d="M711,753.5 q4.5,-2.5 9.5,0.5" stroke="#f6d84a" stroke-width="1.6"/></g><circle cx="916" cy="851.5" r="85" fill="#8a6040" opacity="0.6" filter="url(#b2)"/><use href="#btnnh" transform="translate(913.2 848.2) scale(0.845 0.848)"/><linearGradient id="rib" x1="0" y1="0" x2="1" y2="1"><stop offset="0" stop-color="#a3222c"/><stop offset="0.45" stop-color="#bf3a40"/><stop offset="0.7" stop-color="#a8262f"/><stop offset="1" stop-color="#b9343b"/></linearGradient><path d="M914.2,756.4 Q932,751.6 950.5,749.4 Q960,749.6 968.7,755.4 Q976,761 982,768.7 Q994,778 1011,787 V804 Q998,798.5 986.9,793 Q975,789 965,783.3 Q957,777 950.5,770 Q944,762 938.4,757.2 Q928,757.6 919,759.9 Z" fill="url(#rib)"/><path d="M951,751.5 Q961,753 970,762 Q985,780 1011,793" fill="none" stroke="#8f1c26" stroke-width="2.2" opacity="0.55" filter="url(#sh)"/><path d="M909.5,760 Q910,756 915,756.5 Q919,758 918.5,764 Q918,770 915.5,772.5 Q912,772 910.5,768 Z" fill="#c2343c"/><path d="M912,759 Q914,765 913,771" fill="none" stroke="#e0646a" stroke-width="1.2" opacity="0.7"/></g><rect x="621" y="680.5" width="389" height="312" fill="none" stroke="#111" stroke-width="5"/><rect x="811" y="680" width="5" height="313" fill="#111"/></svg></body></html>
